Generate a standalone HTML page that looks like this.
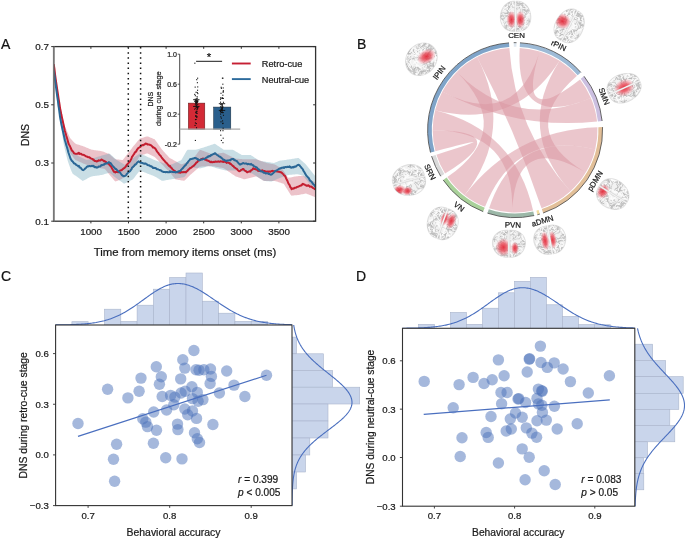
<!DOCTYPE html>
<html><head><meta charset="utf-8"><style>
html,body{margin:0;padding:0;background:#fff;}
svg{display:block;font-family:"Liberation Sans", sans-serif;}
.gs{will-change:transform;}
text{stroke:#1a1a1a;stroke-width:0.22px;paint-order:stroke;}
</style></head><body>
<svg width="685" height="539" viewBox="0 0 685 539">
<rect width="685" height="539" fill="#fff"/>
<g class="gs" opacity="0.999">
<g id="panelB">
<g fill="rgb(218,152,163)" fill-opacity="0.55" stroke="none">
<path d="M445.07,173.57 A82.40,82.40 0 0 1 436.43,154.65 Q511.14,131.29 435.43,151.20 A82.40,82.40 0 0 1 432.70,130.15 Q515.10,130.15 445.07,173.57 Z"/>
<path d="M432.70,130.15 A82.40,82.40 0 0 1 435.15,110.22 Q515.10,130.15 533.08,210.57 A82.40,82.40 0 0 1 512.22,212.50 Q515.10,130.15 432.70,130.15 Z"/>
<path d="M435.15,110.22 A82.40,82.40 0 0 1 442.35,91.47 Q515.10,130.15 539.74,51.52 A82.40,82.40 0 0 1 559.62,60.81 Q515.10,130.15 435.15,110.22 Z"/>
<path d="M442.35,91.47 A82.40,82.40 0 0 1 456.83,71.88 Q515.10,130.15 590.95,97.95 A82.40,82.40 0 0 1 597.05,121.54 Q515.10,130.15 442.35,91.47 Z"/>
<path d="M456.83,71.88 A82.40,82.40 0 0 1 477.05,57.06 Q515.10,130.15 464.60,195.26 A82.40,82.40 0 0 1 447.36,177.06 Q515.10,130.15 456.83,71.88 Z"/>
<path d="M477.05,57.06 A82.40,82.40 0 0 1 509.35,47.95 Q515.10,130.15 570.45,191.19 A82.40,82.40 0 0 1 541.52,208.20 Q515.10,130.15 477.05,57.06 Z"/>
<path d="M519.70,47.88 A82.40,82.40 0 0 1 539.74,51.52 Q515.10,130.15 580.03,79.42 A82.40,82.40 0 0 1 590.95,97.95 Q515.10,130.15 519.70,47.88 Z"/>
<path d="M559.62,60.81 A82.40,82.40 0 0 1 577.00,75.77 Q515.10,130.15 585.73,172.59 A82.40,82.40 0 0 1 570.45,191.19 Q515.10,130.15 559.62,60.81 Z"/>
<path d="M597.45,127.27 A82.40,82.40 0 0 1 595.22,149.39 Q515.10,130.15 485.03,206.87 A82.40,82.40 0 0 1 464.60,195.26 Q515.10,130.15 597.45,127.27 Z"/>
<path d="M595.22,149.39 A82.40,82.40 0 0 1 585.73,172.59 Q515.10,130.15 512.22,212.50 A82.40,82.40 0 0 1 489.09,208.34 Q515.10,130.15 595.22,149.39 Z"/>
</g>
<path d="M432.58,151.95 A85.35,85.35 0 0 1 509.15,45.01" fill="none" stroke="#7fa4c9" stroke-width="4.10"/>
<path d="M430.50,152.50 A87.50,87.50 0 0 1 509.00,42.86" fill="none" stroke="#444" stroke-width="0.8"/>
<path d="M513.76,44.81 A85.35,85.35 0 0 1 516.44,44.81" fill="none" stroke="#dfe8f0" stroke-width="4.10"/>
<path d="M513.73,42.66 A87.50,87.50 0 0 1 516.47,42.66" fill="none" stroke="#444" stroke-width="0.8"/>
<path d="M519.86,44.93 A85.35,85.35 0 0 1 579.22,73.82" fill="none" stroke="#9dbad6" stroke-width="4.10"/>
<path d="M519.98,42.79 A87.50,87.50 0 0 1 580.84,72.40" fill="none" stroke="#444" stroke-width="0.8"/>
<path d="M582.36,77.60 A85.35,85.35 0 0 1 599.98,121.23" fill="none" stroke="#cbbfe0" stroke-width="4.10"/>
<path d="M584.05,76.28 A87.50,87.50 0 0 1 602.12,121.00" fill="none" stroke="#444" stroke-width="0.8"/>
<path d="M600.40,127.17 A85.35,85.35 0 0 1 542.46,210.99" fill="none" stroke="#e2bf98" stroke-width="4.10"/>
<path d="M602.55,127.10 A87.50,87.50 0 0 1 543.15,213.03" fill="none" stroke="#444" stroke-width="0.8"/>
<path d="M539.20,212.03 A85.35,85.35 0 0 1 536.90,212.67" fill="none" stroke="#f3dca0" stroke-width="4.10"/>
<path d="M539.80,214.09 A87.50,87.50 0 0 1 537.45,214.75" fill="none" stroke="#444" stroke-width="0.8"/>
<path d="M533.72,213.44 A85.35,85.35 0 0 1 488.16,211.14" fill="none" stroke="#9cb8a8" stroke-width="4.10"/>
<path d="M534.19,215.54 A87.50,87.50 0 0 1 487.48,213.18" fill="none" stroke="#444" stroke-width="0.8"/>
<path d="M483.96,209.62 A85.35,85.35 0 0 1 444.93,178.74" fill="none" stroke="#a9d19a" stroke-width="4.10"/>
<path d="M483.17,211.62 A87.50,87.50 0 0 1 443.16,179.96" fill="none" stroke="#444" stroke-width="0.8"/>
<path d="M442.56,175.13 A85.35,85.35 0 0 1 433.61,155.53" fill="none" stroke="#dadada" stroke-width="4.10"/>
<path d="M440.73,176.26 A87.50,87.50 0 0 1 431.56,156.17" fill="none" stroke="#444" stroke-width="0.8"/>
</g>
<defs>
<radialGradient id="rb"><stop offset="0" stop-color="#e42a3a" stop-opacity="0.95"/><stop offset="0.45" stop-color="#e8414f" stop-opacity="0.75"/><stop offset="0.8" stop-color="#ee6472" stop-opacity="0.3"/><stop offset="1" stop-color="#f07080" stop-opacity="0"/></radialGradient>
<filter id="bblur" x="-20%" y="-20%" width="140%" height="140%"><feGaussianBlur stdDeviation="0.55"/></filter>
<clipPath id="hemis"><path d="M-0.90,-15.00 L-2.92,-14.91 L-4.52,-14.65 L-5.97,-14.21 L-7.32,-13.61 L-8.57,-12.85 L-9.72,-11.94 L-10.78,-10.89 L-11.73,-9.71 L-12.58,-8.42 L-13.32,-7.03 L-13.94,-5.55 L-14.44,-4.01 L-14.80,-2.43 L-15.04,-0.81 L-15.13,0.81 L-15.08,2.43 L-14.88,4.01 L-14.53,5.55 L-14.04,7.03 L-13.40,8.42 L-12.61,9.71 L-11.68,10.89 L-10.61,11.94 L-9.40,12.85 L-8.06,13.61 L-6.59,14.21 L-4.97,14.65 L-3.17,14.91 L-0.90,15.00 L-0.90,15.00 L-0.90,-15.00 Z M0.90,-15.00 L2.92,-14.91 L4.52,-14.65 L5.97,-14.21 L7.32,-13.61 L8.57,-12.85 L9.72,-11.94 L10.78,-10.89 L11.73,-9.71 L12.58,-8.42 L13.32,-7.03 L13.94,-5.55 L14.44,-4.01 L14.80,-2.43 L15.04,-0.81 L15.13,0.81 L15.08,2.43 L14.88,4.01 L14.53,5.55 L14.04,7.03 L13.40,8.42 L12.61,9.71 L11.68,10.89 L10.61,11.94 L9.40,12.85 L8.06,13.61 L6.59,14.21 L4.97,14.65 L3.17,14.91 L0.90,15.00 L0.90,15.00 L0.90,-15.00 Z"/></clipPath>
<g id="brain">
<path d="M-0.90,-15.00 L-2.92,-14.91 L-4.52,-14.65 L-5.97,-14.21 L-7.32,-13.61 L-8.57,-12.85 L-9.72,-11.94 L-10.78,-10.89 L-11.73,-9.71 L-12.58,-8.42 L-13.32,-7.03 L-13.94,-5.55 L-14.44,-4.01 L-14.80,-2.43 L-15.04,-0.81 L-15.13,0.81 L-15.08,2.43 L-14.88,4.01 L-14.53,5.55 L-14.04,7.03 L-13.40,8.42 L-12.61,9.71 L-11.68,10.89 L-10.61,11.94 L-9.40,12.85 L-8.06,13.61 L-6.59,14.21 L-4.97,14.65 L-3.17,14.91 L-0.90,15.00 L-0.90,15.00 L-0.90,-15.00 Z M0.90,-15.00 L2.92,-14.91 L4.52,-14.65 L5.97,-14.21 L7.32,-13.61 L8.57,-12.85 L9.72,-11.94 L10.78,-10.89 L11.73,-9.71 L12.58,-8.42 L13.32,-7.03 L13.94,-5.55 L14.44,-4.01 L14.80,-2.43 L15.04,-0.81 L15.13,0.81 L15.08,2.43 L14.88,4.01 L14.53,5.55 L14.04,7.03 L13.40,8.42 L12.61,9.71 L11.68,10.89 L10.61,11.94 L9.40,12.85 L8.06,13.61 L6.59,14.21 L4.97,14.65 L3.17,14.91 L0.90,15.00 L0.90,15.00 L0.90,-15.00 Z" fill="#f2f2f2" stroke="#e0e0e0" stroke-width="1.2"/>
<path d="M-11.97,8.93 L-13.61,9.66 L-13.76,11.45 L-13.41,13.22 L-12.68,14.87 M2.09,-13.09 L3.77,-12.45 L5.50,-12.94 L7.14,-13.70 L8.51,-12.53 M-13.17,9.98 L-14.55,11.13 L-16.29,11.61 L-16.73,13.36 L-17.40,15.03 M5.03,11.01 L6.24,12.34 L5.97,14.12 L6.84,15.70 L6.06,17.32 M-12.84,-13.96 L-14.63,-14.15 L-16.42,-14.36 L-18.22,-14.29 L-19.53,-13.07 M5.72,8.88 L6.47,10.52 L6.37,12.32 L6.50,14.11 L5.42,15.55 M-4.56,-5.23 L-3.98,-6.93 L-3.37,-8.62 L-3.88,-10.35 L-5.67,-10.56 M13.63,-12.01 L14.13,-13.74 L15.89,-14.11 L17.51,-14.90 L19.00,-13.89 M-8.73,-7.54 L-8.09,-9.22 L-6.79,-10.46 L-5.60,-11.82 L-5.51,-13.61 M9.83,-11.39 L9.76,-13.19 L9.17,-14.89 L9.84,-16.56 L9.22,-18.25 M-6.58,8.64 L-8.32,9.07 L-10.12,9.01 L-10.96,7.42 L-9.80,6.04 M10.91,8.96 L11.09,10.75 L9.88,12.08 L9.02,13.66 L7.97,15.12 M-7.73,13.30 L-8.07,15.07 L-6.54,16.02 L-4.87,16.67 L-3.47,17.81 M13.65,12.29 L11.86,12.13 L10.44,13.23 L8.65,13.03 L7.29,14.20 M-6.77,-12.37 L-4.98,-12.55 L-3.95,-14.04 L-2.84,-15.45 L-2.68,-17.24 M7.89,1.54 L7.94,3.34 L8.90,4.87 L10.04,6.26 L11.81,5.94 M-1.54,-8.84 L-3.33,-8.90 L-4.36,-10.38 L-5.44,-11.82 L-6.68,-13.12 M10.17,10.40 L8.46,10.97 L6.94,11.92 L5.24,12.51 L3.49,12.09 M-8.02,5.53 L-9.82,5.44 L-10.71,7.00 L-10.13,8.71 L-8.61,9.66 M4.14,-13.08 L4.08,-11.28 L2.60,-10.25 L1.58,-8.77 L1.08,-7.04 M-6.92,5.23 L-5.19,4.71 L-3.70,3.71 L-1.90,3.55 L-0.30,2.73 M12.21,-7.81 L13.47,-9.10 L15.21,-9.56 L16.98,-9.87 L18.45,-10.91 M-7.93,-13.04 L-6.23,-12.43 L-4.50,-11.92 L-3.67,-10.33 L-1.87,-10.45 M8.74,-0.27 L8.03,-1.93 L7.42,-3.62 L7.08,-5.39 L6.70,-7.15 M-9.50,-7.30 L-10.82,-8.52 L-12.62,-8.53 L-13.31,-10.19 L-12.95,-11.96 M13.92,-5.98 L12.84,-4.54 L13.61,-2.91 L15.41,-2.97 L16.86,-4.05 M-12.70,-9.75 L-14.19,-10.75 L-15.81,-9.97 L-16.48,-8.30 L-17.78,-7.05 M8.02,1.42 L6.81,2.76 L5.65,4.13 L3.87,3.86 L2.35,4.82 M-11.03,-7.22 L-9.76,-5.94 L-7.99,-6.27 L-6.82,-4.90 L-5.27,-3.98 M3.79,-14.50 L5.50,-15.04 L7.08,-15.91 L8.82,-16.37 L9.95,-14.96 M-13.08,-7.47 L-12.82,-9.26 L-14.13,-10.49 L-14.07,-12.29 L-14.45,-14.05 M11.66,-5.14 L10.42,-6.44 L8.63,-6.19 L7.04,-7.02 L6.48,-8.73 M-7.78,-3.25 L-6.33,-4.31 L-4.60,-3.81 L-2.80,-3.66 L-1.05,-4.05 M6.20,-12.76 L7.03,-11.16 L8.82,-11.08 L10.61,-10.83 L12.41,-10.82 M-1.83,-9.98 L-1.50,-11.75 L-1.72,-13.54 L-0.25,-14.57 L-0.20,-16.37 M6.83,8.73 L7.92,7.30 L9.71,7.51 L11.24,8.46 L13.04,8.43 M-7.74,-7.28 L-6.09,-6.57 L-4.63,-7.63 L-3.11,-8.60 L-2.68,-10.34 M6.76,6.99 L5.27,5.98 L3.50,5.64 L1.70,5.61 L-0.04,6.07 M-10.37,8.36 L-11.06,10.02 L-9.98,11.46 L-8.51,12.49 L-8.70,14.28 M8.03,1.66 L6.81,0.33 L6.79,-1.47 L5.79,-2.96 L4.25,-3.89 M-13.03,-0.00 L-12.24,-1.62 L-10.61,-2.39 L-9.04,-3.26 L-7.52,-4.22 M12.95,-10.71 L11.38,-9.83 L10.25,-8.44 L8.46,-8.21 L6.78,-7.56 M-11.70,-14.11 L-10.86,-12.51 L-10.77,-10.72 L-9.50,-9.44 L-8.79,-7.78 M3.97,-3.67 L5.21,-4.98 L5.10,-6.77 L3.78,-7.99 L3.75,-9.79 M-4.67,9.44 L-3.73,7.90 L-4.61,6.33 L-3.69,4.77 L-1.96,4.28" fill="none" stroke="#cbcbcb" stroke-width="0.8" stroke-linecap="round" clip-path="url(#hemis)"/>
<path d="M-1.65,-14.19 L-0.47,-12.82 L0.41,-11.25 L2.10,-10.63 L2.24,-8.84 M11.74,-5.15 L9.94,-5.03 L8.36,-5.88 L8.55,-7.67 L9.14,-9.37 M-4.31,-13.19 L-5.25,-14.73 L-5.56,-16.50 L-6.79,-17.82 L-8.48,-18.44 M10.72,0.50 L8.96,0.88 L7.70,2.17 L5.92,1.88 L4.25,1.23 M-9.52,-9.50 L-8.44,-8.06 L-8.59,-6.26 L-8.02,-4.56 L-7.80,-2.77 M10.46,2.78 L9.91,1.06 L9.46,-0.68 L10.01,-2.39 L8.85,-3.76 M-9.33,-11.34 L-8.84,-9.61 L-7.11,-9.13 L-5.34,-9.46 L-3.54,-9.52 M2.30,-11.32 L3.58,-10.05 L3.74,-8.26 L2.21,-7.32 L0.59,-8.10 M-10.55,-1.93 L-11.68,-0.53 L-12.37,1.13 L-13.84,2.18 L-15.64,2.25 M4.62,11.55 L3.19,12.65 L1.46,12.18 L0.00,13.24 L-0.44,14.99 M-12.19,6.61 L-11.89,4.84 L-12.86,3.33 L-14.10,2.02 L-15.17,0.58 M8.51,9.65 L6.93,10.52 L5.15,10.79 L3.36,10.70 L2.57,9.08 M-6.59,-8.85 L-7.00,-7.10 L-7.22,-5.31 L-6.10,-3.90 L-5.79,-2.12 M6.01,8.64 L6.05,6.84 L5.29,5.21 L4.47,3.61 L3.37,2.18 M-8.77,-10.39 L-8.93,-12.18 L-10.34,-13.30 L-11.70,-14.49 L-13.48,-14.26 M3.43,13.60 L4.00,11.90 L5.52,10.94 L6.75,9.62 L7.84,8.18 M-4.14,-9.74 L-5.84,-10.34 L-6.10,-12.12 L-6.07,-13.92 L-5.71,-15.68 M4.47,10.82 L5.95,9.80 L7.32,8.63 L7.37,6.83 L6.51,5.25 M-9.06,8.01 L-8.94,9.80 L-8.96,11.60 L-10.64,12.25 L-11.35,13.91 M6.94,11.92 L5.61,10.71 L4.34,9.44 L2.56,9.74 L0.76,9.74 M-1.43,13.31 L-3.12,13.93 L-4.66,13.00 L-6.10,14.08 L-6.47,15.84 M2.61,12.88 L3.58,11.36 L2.67,9.81 L1.89,8.18 L1.65,6.40 M-4.13,-11.77 L-3.84,-13.55 L-5.28,-14.63 L-6.99,-14.08 L-8.78,-14.30 M4.33,10.22 L4.20,8.43 L4.23,6.63 L5.33,5.20 L4.86,3.46 M-13.93,-0.99 L-15.69,-0.64 L-17.41,-0.09 L-18.72,-1.33 L-20.28,-2.22 M6.16,8.89 L6.67,10.62 L7.57,12.18 L8.80,13.50 L10.56,13.85 M-12.82,-3.30 L-14.60,-3.07 L-16.28,-3.73 L-17.42,-5.12 L-18.81,-6.27 M11.07,-1.39 L11.41,-3.15 L10.86,-4.87 L12.05,-6.22 L12.50,-7.97 M-7.41,-9.60 L-9.08,-10.26 L-10.87,-10.49 L-12.38,-11.46 L-13.90,-10.48 M3.59,11.83 L1.97,12.62 L0.98,14.12 L-0.77,14.54 L-2.47,15.15 M-4.22,-11.15 L-5.85,-10.40 L-6.18,-8.63 L-7.80,-7.84 L-8.30,-6.11 M9.40,7.91 L7.74,7.21 L6.44,8.45 L5.17,9.73 L4.03,11.12 M-10.22,-2.25 L-8.42,-2.16 L-6.63,-2.27 L-5.01,-3.07 L-4.66,-4.83 M12.08,-5.42 L13.66,-6.28 L13.44,-8.07 L12.56,-9.64 L11.63,-11.19 M-7.47,10.52 L-6.20,9.24 L-6.64,7.50 L-5.22,6.39 L-3.66,5.49 M10.95,3.61 L12.45,4.60 L14.21,4.98 L15.98,5.31 L17.14,3.94 M-9.16,9.53 L-10.30,10.92 L-11.60,12.17 L-13.34,11.71 L-14.27,10.17 M4.23,-10.63 L3.36,-12.20 L1.59,-12.52 L0.91,-14.19 L1.55,-15.87 M-8.77,-8.09 L-7.35,-9.19 L-7.81,-10.93 L-7.89,-12.72 L-7.51,-14.48 M6.60,-12.39 L4.83,-12.68 L3.29,-13.62 L1.51,-13.34 L-0.00,-14.31 M-12.02,-3.40 L-10.26,-3.04 L-8.47,-2.87 L-7.02,-1.80 L-5.47,-0.88 M13.29,2.53 L13.65,4.30 L13.75,6.09 L12.23,7.05 L12.40,8.84 M-13.02,-1.52 L-13.96,0.02 L-14.95,1.52 L-14.21,3.16 L-12.42,3.37 M9.88,-5.32 L9.06,-6.92 L7.41,-7.64 L7.43,-9.44 L6.81,-11.13 M-6.71,10.80 L-5.13,9.94 L-3.42,10.50 L-1.87,9.60 L-0.22,10.32 M5.57,-12.41 L7.33,-12.75 L8.19,-14.34 L9.46,-15.61 L10.07,-17.30 M-11.11,2.30 L-12.81,1.71 L-14.34,0.75 L-15.89,-0.16 L-16.74,-1.75 M1.25,11.60 L3.05,11.72 L4.36,10.48 L5.35,8.99 L7.01,8.28 M-7.62,7.88 L-6.23,9.02 L-6.12,10.82 L-5.94,12.61 L-5.92,14.41 M10.25,-7.65 L8.52,-8.13 L6.95,-9.01 L6.16,-10.63 L4.87,-11.89 M-10.88,-1.48 L-9.33,-0.57 L-7.78,-1.49 L-7.72,-3.29 L-6.21,-4.28 M9.81,8.47 L8.99,6.86 L7.66,5.65 L6.59,4.20 L6.99,2.44 M-10.88,1.35 L-9.67,0.02 L-7.92,-0.38 L-6.57,0.81 L-4.78,0.58 M6.41,8.54 L7.94,7.60 L9.41,6.56 L10.82,5.45 L11.23,3.69 M-3.28,11.07 L-4.50,12.39 L-5.94,13.47 L-7.42,14.49 L-9.05,15.25" fill="none" stroke="#b9b9b9" stroke-width="0.8" stroke-linecap="round" clip-path="url(#hemis)"/>
<path d="M-2.94,-11.34 L-1.25,-10.71 L0.21,-9.65 L1.49,-8.39 L3.28,-8.15 M3.54,2.44 L4.40,0.86 L4.63,-0.92 L5.21,-2.63 L6.97,-3.00 M-7.38,-5.63 L-6.09,-6.89 L-4.86,-8.20 L-3.70,-9.58 L-4.39,-11.24 M2.88,-14.26 L2.85,-16.06 L3.59,-17.70 L4.11,-19.43 L4.61,-21.16 M-12.73,-3.06 L-11.83,-1.50 L-10.03,-1.66 L-8.24,-1.74 L-6.55,-2.38 M7.05,6.61 L8.84,6.79 L10.13,8.04 L10.19,9.84 L8.66,10.79 M-6.50,-4.55 L-4.71,-4.43 L-3.74,-5.95 L-3.94,-7.74 L-4.52,-9.44 M6.85,7.68 L5.12,7.21 L3.97,8.59 L2.27,9.21 L0.54,8.71 M-1.66,-4.32 L-3.46,-4.30 L-4.82,-5.49 L-4.31,-7.21 L-2.83,-8.24 M9.55,8.23 L10.92,9.39 L12.64,9.93 L14.07,11.03 L15.78,10.47 M-13.40,-12.82 L-14.12,-11.17 L-13.66,-9.43 L-12.89,-7.80 L-11.60,-6.55 M10.17,0.52 L11.45,-0.75 L13.19,-1.19 L13.48,-2.97 L14.47,-4.47 M-13.33,-10.56 L-11.93,-11.69 L-12.12,-13.48 L-11.82,-15.25 L-12.33,-16.98 M6.31,14.33 L4.64,13.65 L3.83,12.04 L2.62,10.70 L0.83,10.79 M-14.25,-9.82 L-12.69,-8.92 L-11.06,-8.14 L-9.45,-8.95 L-7.93,-9.90 M8.56,8.31 L10.03,7.27 L9.73,5.49 L11.24,4.51 L10.88,2.75 M-14.01,11.40 L-12.85,10.03 L-12.87,8.23 L-12.48,6.47 L-12.37,4.68 M10.73,-8.93 L9.48,-10.23 L8.54,-11.76 L9.36,-13.36 L10.94,-14.22 M-3.25,4.21 L-1.46,4.45 L0.21,5.12 L1.46,3.83 L0.93,2.11 M6.58,-9.25 L5.00,-10.12 L3.21,-9.91 L1.41,-9.92 L-0.38,-10.04 M-12.49,9.30 L-12.10,7.54 L-13.44,6.35 L-13.87,4.60 L-14.70,3.00 M2.19,0.87 L2.63,2.62 L2.35,4.40 L1.17,5.76 L0.92,7.54 M-10.16,-7.95 L-9.13,-9.43 L-8.20,-10.97 L-8.65,-12.71 L-9.25,-14.41 M5.10,8.23 L6.18,9.67 L7.55,10.84 L7.33,12.62 L6.48,14.21 M-8.82,-10.25 L-7.71,-8.84 L-8.31,-7.14 L-7.21,-5.72 L-5.86,-4.53 M6.31,-13.85 L4.92,-15.00 L3.49,-16.09 L3.26,-17.88 L3.56,-19.65 M-4.62,13.36 L-2.82,13.34 L-1.73,11.90 L-0.24,10.89 L-0.65,9.13 M5.22,-1.88 L3.60,-2.66 L2.10,-3.66 L1.05,-5.12 L-0.18,-6.44 M-11.01,-9.07 L-9.23,-8.76 L-8.52,-7.11 L-9.65,-5.70 L-11.41,-5.32 M5.28,12.02 L5.84,10.31 L4.75,8.88 L5.60,7.29 L5.25,5.52 M-3.75,1.57 L-3.50,-0.21 L-4.46,-1.73 L-4.25,-3.52 L-3.75,-5.25 M8.88,2.76 L10.44,1.85 L11.26,0.26 L11.53,-1.52 L13.29,-1.93 M-12.39,1.17 L-14.17,1.48 L-15.55,2.62 L-16.83,3.89 L-18.36,4.84 M11.48,6.00 L9.87,5.19 L8.08,5.04 L6.68,3.90 L5.52,2.53 M-13.36,-12.46 L-11.57,-12.67 L-10.10,-13.69 L-10.09,-15.49 L-11.63,-16.42 M14.39,8.32 L15.77,9.48 L17.32,10.39 L19.08,10.03 L20.87,9.82 M-4.61,-9.88 L-6.18,-10.77 L-5.98,-12.56 L-4.64,-13.76 L-5.20,-15.47 M3.73,1.70 L5.15,0.59 L6.69,-0.34 L8.15,-1.39 L7.76,-3.14 M-7.16,10.52 L-5.52,11.27 L-5.41,13.06 L-6.97,13.96 L-6.77,15.75 M5.49,-8.85 L6.97,-7.84 L8.77,-7.76 L10.53,-8.16 L12.29,-7.82 M-1.83,-9.66 L-2.22,-11.42 L-3.57,-12.60 L-3.34,-14.39 L-2.23,-15.81 M12.65,8.20 L11.24,9.32 L9.48,9.68 L7.68,9.84 L6.07,9.04 M-10.27,8.40 L-8.65,7.60 L-7.04,8.40 L-5.93,9.82 L-6.32,11.58 M2.23,0.62 L3.56,-0.60 L3.10,-2.34 L1.58,-3.30 L-0.22,-3.27 M-2.44,4.33 L-3.45,2.84 L-2.50,1.30 L-2.44,-0.49 L-3.44,-1.99" fill="none" stroke="#fcfcfc" stroke-width="0.9" stroke-linecap="round" clip-path="url(#hemis)"/>
</g>
<g id="brainL">
<ellipse cx="0" cy="0" rx="15.2" ry="15" fill="#f2f2f2" stroke="#e0e0e0" stroke-width="1.2"/>
<clipPath id="ell"><ellipse cx="0" cy="0" rx="15.2" ry="15"/></clipPath>
<path d="M-5.46,9.11 L-5.47,7.31 L-6.54,5.86 L-8.33,5.76 L-10.13,5.78 M13.25,-6.98 L14.21,-8.50 L14.65,-10.25 L15.84,-11.60 L17.61,-11.30 M-4.25,-6.94 L-4.52,-5.16 L-4.37,-3.37 L-5.19,-1.77 L-6.94,-1.33 M10.14,1.21 L10.71,-0.49 L11.99,-1.75 L12.87,-3.33 L14.67,-3.36 M-4.03,-7.11 L-2.56,-6.07 L-1.69,-4.50 L-0.17,-3.53 L-0.07,-1.74 M11.91,-6.64 L10.97,-8.18 L9.19,-8.46 L7.62,-9.34 L6.39,-10.65 M-12.82,-5.87 L-11.81,-4.39 L-12.26,-2.65 L-11.17,-1.22 L-9.41,-0.84 M2.86,14.13 L1.44,13.03 L1.30,11.24 L0.89,9.48 L-0.87,9.13 M-2.30,-7.30 L-0.76,-8.24 L-0.82,-10.04 L-2.22,-11.17 L-3.95,-10.67 M7.02,9.46 L7.53,7.73 L6.28,6.43 L6.82,4.72 L5.61,3.38 M-1.66,7.21 L-1.95,5.43 L-3.12,4.06 L-2.69,2.31 L-1.06,1.55 M2.07,13.24 L3.56,12.22 L4.99,11.13 L6.78,11.23 L7.69,12.78 M-13.16,-6.47 L-12.91,-4.69 L-12.42,-2.96 L-13.42,-1.46 L-14.24,0.15 M3.57,-3.62 L5.31,-3.20 L6.84,-4.15 L7.31,-5.89 L7.30,-7.69 M-13.73,0.48 L-12.76,2.00 L-11.10,2.69 L-9.50,3.53 L-7.74,3.16 M2.88,9.35 L2.23,7.67 L0.76,6.63 L-0.88,5.89 L-1.30,4.14 M-4.91,-1.96 L-3.21,-1.34 L-1.78,-2.43 L0.02,-2.42 L0.68,-0.75 M2.48,-4.05 L3.11,-5.73 L4.72,-6.54 L5.03,-8.32 L5.16,-10.11 M-11.68,8.38 L-11.84,6.59 L-11.82,4.79 L-13.21,3.65 L-12.67,1.93 M11.04,-3.10 L9.26,-3.39 L7.49,-3.07 L5.99,-2.08 L4.32,-2.77 M-3.57,13.06 L-5.33,12.68 L-7.11,12.42 L-8.05,13.96 L-8.28,15.75 M7.49,-13.14 L8.29,-14.75 L9.51,-16.07 L8.75,-17.70 L9.85,-19.13 M-9.63,6.33 L-7.91,6.84 L-6.26,6.10 L-4.76,7.10 L-3.02,7.53 M4.09,-2.02 L4.78,-0.36 L4.29,1.37 L5.00,3.03 L4.02,4.53 M-11.08,10.49 L-9.80,9.22 L-8.09,9.78 L-6.91,8.42 L-6.67,6.64 M13.27,1.31 L14.77,0.32 L15.80,-1.16 L17.57,-1.45 L18.91,-2.66 M-6.79,9.47 L-8.51,10.03 L-9.24,11.67 L-8.75,13.40 L-10.13,14.55 M4.01,-9.73 L5.11,-11.15 L5.84,-12.80 L6.99,-14.18 L8.79,-14.11 M-14.34,-4.20 L-16.08,-3.75 L-17.78,-3.14 L-19.35,-4.01 L-21.07,-4.55 M11.16,10.34 L10.13,11.81 L10.78,13.49 L10.69,15.28 L9.44,16.58 M-9.74,-6.50 L-11.21,-7.53 L-11.62,-9.29 L-10.28,-10.50 L-9.55,-12.14 M9.35,-1.31 L7.56,-1.11 L6.04,-0.16 L4.25,-0.43 L2.94,-1.66 M-2.95,9.53 L-3.77,11.13 L-4.37,12.83 L-4.55,14.62 L-4.39,16.41 M11.31,-5.48 L11.24,-3.68 L11.47,-1.90 L11.54,-0.10 L12.86,1.13 M-10.27,3.30 L-9.71,1.59 L-10.87,0.21 L-11.97,-1.22 L-13.74,-0.91 M6.27,4.15 L6.03,2.37 L7.34,1.13 L9.08,1.59 L9.62,3.30 M-7.19,3.64 L-7.86,5.31 L-7.58,7.08 L-8.67,8.51 L-8.46,10.30 M7.28,5.06 L5.59,5.68 L3.83,6.03 L2.99,7.62 L4.03,9.08 M-8.30,3.89 L-8.43,2.09 L-9.85,0.98 L-11.55,1.56 L-13.15,0.73 M13.09,13.61 L14.19,12.18 L15.49,10.94 L17.13,10.19 L18.87,9.73 M-6.96,9.48 L-8.47,8.50 L-8.46,6.70 L-8.79,4.93 L-8.14,3.25 M14.11,4.37 L13.50,6.06 L13.19,7.83 L14.18,9.33 L15.96,9.61 M-11.47,-2.03 L-12.81,-0.84 L-14.43,-0.04 L-16.20,0.25 L-17.74,-0.69 M5.44,2.97 L4.36,4.40 L2.56,4.50 L0.80,4.13 L-0.98,3.83 M-8.24,0.69 L-9.79,1.60 L-11.53,1.16 L-13.33,1.24 L-14.84,0.26" fill="none" stroke="#cbcbcb" stroke-width="0.8" stroke-linecap="round" clip-path="url(#ell)"/>
<path d="M-1.42,-11.53 L-0.83,-13.23 L-1.90,-14.67 L-3.39,-15.68 L-5.01,-16.47 M6.44,8.87 L8.03,9.71 L9.77,10.17 L11.09,11.41 L12.67,12.27 M-9.02,7.07 L-10.78,7.44 L-12.46,8.09 L-14.16,8.70 L-15.71,9.61 M4.36,-11.82 L5.91,-12.74 L7.70,-12.68 L9.18,-11.65 L8.87,-9.87 M-8.84,8.38 L-7.35,9.38 L-5.55,9.39 L-4.56,10.89 L-3.34,12.22 M12.50,1.02 L13.50,2.52 L15.26,2.15 L17.05,2.37 L18.61,1.47 M-2.52,12.79 L-3.58,14.24 L-3.73,16.04 L-2.96,17.66 L-3.97,19.15 M12.50,0.63 L10.94,1.52 L9.16,1.73 L7.39,2.09 L5.59,2.17 M-10.48,8.02 L-11.38,9.58 L-10.90,11.31 L-10.70,13.10 L-12.09,14.24 M1.56,11.68 L0.18,10.52 L-1.62,10.41 L-3.40,10.67 L-5.19,10.48 M-8.62,-10.67 L-7.98,-12.35 L-6.18,-12.38 L-4.38,-12.46 L-2.96,-11.35 M12.34,-0.16 L14.14,-0.26 L14.85,-1.91 L15.73,-3.49 L17.13,-4.62 M-13.48,-4.24 L-12.36,-5.65 L-11.91,-7.39 L-12.71,-9.00 L-14.35,-9.75 M11.62,7.18 L13.40,6.91 L15.08,6.26 L16.45,7.41 L18.13,6.75 M-11.63,0.86 L-12.54,-0.69 L-14.32,-0.96 L-14.91,-2.66 L-13.66,-3.95 M3.21,10.59 L2.92,12.37 L3.03,14.17 L3.04,15.97 L1.79,17.26 M-1.09,13.44 L-1.05,11.64 L-1.85,10.02 L-0.73,8.61 L-0.01,6.97 M2.39,13.31 L2.75,15.07 L2.19,16.78 L0.99,18.12 L-0.43,19.23 M-11.48,1.48 L-9.91,0.59 L-8.32,1.43 L-7.69,3.12 L-8.11,4.87 M5.99,-9.34 L4.24,-9.78 L2.80,-8.71 L3.02,-6.92 L4.36,-5.73 M-9.46,-8.90 L-9.15,-7.13 L-9.19,-5.33 L-9.65,-3.59 L-11.21,-2.68 M12.63,-6.91 L10.84,-7.14 L9.62,-8.46 L8.06,-9.35 L7.57,-11.08 M-2.55,-12.36 L-3.75,-11.03 L-5.17,-9.91 L-6.76,-10.76 L-7.81,-12.22 M11.05,-6.85 L12.33,-8.11 L14.10,-8.44 L15.64,-7.51 L17.35,-6.95 M-9.14,8.62 L-10.00,10.20 L-11.79,10.08 L-13.26,9.04 L-14.74,8.02 M1.58,12.96 L0.31,11.69 L-1.16,10.65 L-2.76,11.48 L-4.20,12.56 M-10.34,-10.12 L-11.91,-11.00 L-13.65,-10.55 L-14.03,-8.79 L-15.45,-7.69 M8.86,7.94 L10.45,8.80 L11.80,9.98 L13.58,9.70 L14.10,7.98 M-11.60,-8.97 L-11.08,-7.25 L-12.31,-5.93 L-14.10,-6.13 L-15.71,-6.92 M13.37,-1.38 L14.23,-2.96 L15.30,-4.40 L16.48,-5.76 L15.69,-7.38 M-6.21,12.64 L-6.23,10.84 L-7.32,9.40 L-8.41,7.97 L-10.04,7.21 M5.53,-8.94 L7.26,-8.44 L8.98,-7.92 L9.57,-6.22 L11.35,-5.91 M-2.87,-14.25 L-1.45,-15.36 L0.34,-15.50 L2.12,-15.23 L3.92,-15.31 M2.37,10.53 L1.97,8.77 L3.17,7.42 L2.73,5.68 L2.60,3.88 M-8.48,-8.52 L-6.74,-8.98 L-5.62,-7.57 L-4.07,-6.65 L-2.46,-5.85 M11.99,7.67 L13.30,6.44 L15.01,7.01 L16.76,6.59 L18.30,7.52 M-4.19,-12.89 L-3.29,-14.45 L-1.88,-15.57 L-0.27,-14.76 L1.46,-15.25 M11.68,-0.11 L10.06,-0.90 L9.36,-2.55 L8.47,-4.12 L6.68,-4.25 M-7.69,-10.72 L-7.47,-12.50 L-7.76,-14.28 L-7.64,-16.08 L-8.39,-17.71 M8.08,7.50 L6.39,6.89 L5.11,5.63 L3.87,4.32 L2.59,3.05 M-4.37,-9.72 L-4.08,-11.50 L-3.40,-13.17 L-3.93,-14.89 L-2.66,-16.16 M11.36,2.18 L9.72,1.45 L8.00,1.98 L7.32,3.64 L7.41,5.44 M-1.73,12.18 L-3.16,13.27 L-2.98,15.07 L-4.28,16.31 L-5.92,17.06 M11.11,-4.97 L12.58,-6.01 L13.50,-7.56 L12.94,-9.27 L14.28,-10.46 M-13.04,2.33 L-14.20,3.70 L-14.30,5.50 L-14.39,7.30 L-15.76,8.47 M2.50,-12.44 L0.86,-11.70 L0.75,-9.90 L0.43,-8.13 L0.41,-6.33 M-9.43,8.87 L-11.06,9.64 L-12.84,9.90 L-14.27,10.99 L-14.81,12.71 M5.27,11.62 L3.64,12.40 L2.32,13.62 L2.27,15.42 L3.37,16.85 M-10.67,-8.40 L-12.33,-7.69 L-12.79,-5.95 L-12.89,-4.16 L-13.85,-2.63 M1.96,13.71 L1.50,15.45 L2.89,16.59 L4.68,16.42 L5.62,14.89 M-9.43,5.06 L-8.34,6.49 L-6.57,6.19 L-4.77,6.27 L-3.87,4.71 M14.22,-2.85 L12.42,-2.72 L10.64,-3.01 L9.45,-4.35 L7.73,-4.91 M-11.69,2.17 L-12.41,3.82 L-14.21,3.78 L-15.95,4.25 L-17.22,5.52 M8.76,6.30 L10.52,5.94 L12.31,6.10 L13.07,7.74 L13.66,9.44 M-2.55,-12.33 L-3.36,-13.94 L-4.63,-15.21 L-6.07,-16.29 L-7.75,-16.93" fill="none" stroke="#b9b9b9" stroke-width="0.8" stroke-linecap="round" clip-path="url(#ell)"/>
<path d="M-14.32,6.09 L-16.02,6.69 L-17.17,8.08 L-17.86,9.74 L-18.59,11.39 M8.16,-1.01 L7.40,-2.65 L6.34,-4.10 L4.54,-4.10 L3.58,-5.62 M-9.20,-11.72 L-9.85,-10.05 L-10.91,-8.59 L-10.00,-7.04 L-10.81,-5.43 M5.37,11.37 L7.16,11.46 L8.53,10.29 L10.14,9.49 L10.88,7.85 M-10.50,9.27 L-11.41,10.82 L-10.35,12.27 L-11.12,13.90 L-9.98,15.29 M10.21,10.23 L10.48,12.01 L11.35,13.59 L11.47,15.38 L10.06,16.50 M-5.49,-0.83 L-6.62,0.56 L-6.10,2.29 L-6.44,4.05 L-5.99,5.80 M2.12,-4.50 L3.67,-3.59 L5.44,-3.93 L7.22,-3.70 L8.97,-4.14 M-5.77,6.56 L-7.56,6.74 L-9.12,5.85 L-10.64,6.82 L-12.42,6.58 M11.03,11.24 L9.34,10.62 L7.65,11.24 L6.46,12.60 L7.00,14.31 M-1.74,-8.08 L-0.72,-6.61 L1.04,-6.99 L1.36,-8.77 L3.11,-9.21 M11.04,-5.68 L12.66,-4.91 L14.46,-5.03 L15.03,-6.74 L16.05,-8.22 M-5.86,-10.77 L-4.07,-10.98 L-2.27,-10.95 L-0.87,-9.83 L0.46,-8.62 M4.20,13.88 L2.92,15.15 L3.11,16.94 L3.82,18.59 L3.39,20.34 M-12.80,14.35 L-12.15,12.67 L-10.92,11.36 L-9.15,11.72 L-8.75,13.48 M7.67,-6.35 L5.95,-5.80 L4.94,-4.31 L3.15,-4.13 L1.93,-5.45 M-3.94,-3.70 L-4.81,-2.12 L-3.68,-0.72 L-2.85,0.88 L-1.35,1.88 M11.50,6.68 L10.43,8.13 L9.51,9.68 L7.85,10.37 L6.62,11.68 M-12.27,5.45 L-13.76,6.47 L-15.42,7.17 L-17.03,6.37 L-18.62,7.23 M13.38,7.60 L15.12,8.08 L16.80,8.70 L18.19,7.55 L19.87,8.19 M-7.39,-3.39 L-5.60,-3.25 L-4.05,-2.34 L-2.66,-1.19 L-3.03,0.57 M11.20,5.61 L9.51,6.23 L7.75,6.61 L6.65,5.18 L6.99,3.42 M-3.14,-10.71 L-4.13,-12.21 L-5.56,-13.31 L-7.34,-13.08 L-7.97,-11.40 M4.19,7.22 L2.68,6.25 L1.87,4.64 L1.78,2.84 L0.52,1.55 M-2.06,-13.76 L-0.36,-13.18 L1.27,-13.95 L3.07,-13.97 L3.90,-15.57 M9.53,-3.58 L7.82,-3.04 L6.11,-3.60 L4.58,-4.55 L4.83,-6.33 M-11.77,-14.50 L-13.55,-14.77 L-15.32,-15.13 L-16.43,-16.55 L-18.14,-17.11 M10.10,13.77 L10.60,15.50 L10.40,17.29 L10.57,19.08 L9.16,20.20 M-2.61,-6.20 L-0.98,-6.97 L0.73,-6.43 L2.53,-6.59 L4.30,-6.90 M4.82,9.28 L6.60,9.03 L7.64,7.56 L9.08,6.48 L10.85,6.82 M-12.93,-0.35 L-12.40,-2.07 L-12.69,-3.85 L-12.16,-5.56 L-11.42,-7.21 M8.24,-3.38 L6.80,-2.29 L5.06,-1.83 L3.29,-1.53 L1.49,-1.52 M-4.36,5.66 L-4.82,7.40 L-4.78,9.19 L-3.61,10.56 L-3.26,12.33 M3.11,-12.55 L3.72,-10.86 L3.88,-9.07 L5.55,-8.39 L6.98,-9.48 M-5.67,-5.04 L-5.30,-3.28 L-6.27,-1.77 L-7.03,-0.14 L-8.17,1.26 M4.07,9.71 L5.84,9.40 L7.64,9.47 L8.66,7.98 L9.84,6.63 M-9.76,-2.78 L-9.13,-4.47 L-9.00,-6.26 L-7.68,-7.49 L-5.88,-7.48 M13.88,-12.29 L12.58,-11.05 L11.46,-9.64 L9.81,-8.93 L8.08,-9.44 M-4.14,-0.64 L-3.13,0.85 L-2.11,2.34 L-3.11,3.83 L-4.49,4.99 M10.89,-12.15 L9.12,-12.47 L7.44,-13.10 L5.66,-12.82 L4.24,-11.71" fill="none" stroke="#fcfcfc" stroke-width="0.9" stroke-linecap="round" clip-path="url(#ell)"/>
</g>
</defs>
<g transform="translate(515.6,16.3)" filter="url(#bblur)">
<g transform="rotate(0) scale(1.0,1.0)"><use href="#brain"/></g>
<clipPath id="hc20"><path transform="rotate(0) scale(1.0,1.0)" d="M-0.90,-15.00 L-2.92,-14.91 L-4.52,-14.65 L-5.97,-14.21 L-7.32,-13.61 L-8.57,-12.85 L-9.72,-11.94 L-10.78,-10.89 L-11.73,-9.71 L-12.58,-8.42 L-13.32,-7.03 L-13.94,-5.55 L-14.44,-4.01 L-14.80,-2.43 L-15.04,-0.81 L-15.13,0.81 L-15.08,2.43 L-14.88,4.01 L-14.53,5.55 L-14.04,7.03 L-13.40,8.42 L-12.61,9.71 L-11.68,10.89 L-10.61,11.94 L-9.40,12.85 L-8.06,13.61 L-6.59,14.21 L-4.97,14.65 L-3.17,14.91 L-0.90,15.00 L-0.90,15.00 L-0.90,-15.00 Z M0.90,-15.00 L2.92,-14.91 L4.52,-14.65 L5.97,-14.21 L7.32,-13.61 L8.57,-12.85 L9.72,-11.94 L10.78,-10.89 L11.73,-9.71 L12.58,-8.42 L13.32,-7.03 L13.94,-5.55 L14.44,-4.01 L14.80,-2.43 L15.04,-0.81 L15.13,0.81 L15.08,2.43 L14.88,4.01 L14.53,5.55 L14.04,7.03 L13.40,8.42 L12.61,9.71 L11.68,10.89 L10.61,11.94 L9.40,12.85 L8.06,13.61 L6.59,14.21 L4.97,14.65 L3.17,14.91 L0.90,15.00 L0.90,15.00 L0.90,-15.00 Z"/></clipPath><g clip-path="url(#hc20)">
<ellipse cx="0" cy="0" rx="5.13" ry="8.84" transform="translate(-4.1,3.3) rotate(0)" fill="url(#rb)"/>
<ellipse cx="0" cy="0" rx="5.13" ry="8.84" transform="translate(4.7,3.3) rotate(0)" fill="url(#rb)"/>
</g></g>
<g transform="translate(569.5,25.7)" filter="url(#bblur)">
<g transform="rotate(28) scale(0.92,1.12)"><use href="#brain"/></g>
<clipPath id="hc26"><path transform="rotate(28) scale(0.92,1.12)" d="M-0.90,-15.00 L-2.92,-14.91 L-4.52,-14.65 L-5.97,-14.21 L-7.32,-13.61 L-8.57,-12.85 L-9.72,-11.94 L-10.78,-10.89 L-11.73,-9.71 L-12.58,-8.42 L-13.32,-7.03 L-13.94,-5.55 L-14.44,-4.01 L-14.80,-2.43 L-15.04,-0.81 L-15.13,0.81 L-15.08,2.43 L-14.88,4.01 L-14.53,5.55 L-14.04,7.03 L-13.40,8.42 L-12.61,9.71 L-11.68,10.89 L-10.61,11.94 L-9.40,12.85 L-8.06,13.61 L-6.59,14.21 L-4.97,14.65 L-3.17,14.91 L-0.90,15.00 L-0.90,15.00 L-0.90,-15.00 Z M0.90,-15.00 L2.92,-14.91 L4.52,-14.65 L5.97,-14.21 L7.32,-13.61 L8.57,-12.85 L9.72,-11.94 L10.78,-10.89 L11.73,-9.71 L12.58,-8.42 L13.32,-7.03 L13.94,-5.55 L14.44,-4.01 L14.80,-2.43 L15.04,-0.81 L15.13,0.81 L15.08,2.43 L14.88,4.01 L14.53,5.55 L14.04,7.03 L13.40,8.42 L12.61,9.71 L11.68,10.89 L10.61,11.94 L9.40,12.85 L8.06,13.61 L6.59,14.21 L4.97,14.65 L3.17,14.91 L0.90,15.00 L0.90,15.00 L0.90,-15.00 Z"/></clipPath><g clip-path="url(#hc26)">
<ellipse cx="0" cy="0" rx="8.78" ry="7.80" transform="translate(-7.0,-4.6) rotate(30)" fill="url(#rb)"/>
</g></g>
<g transform="translate(421.4,59.2)" filter="url(#bblur)">
<g transform="rotate(-50) scale(1.12,0.98)"><use href="#brainL"/></g>
<clipPath id="hc31"><ellipse cx="0" cy="0" rx="15.2" ry="15" transform="rotate(-50) scale(1.12,0.98)"/></clipPath><g clip-path="url(#hc31)">
<ellipse cx="0" cy="0" rx="10.12" ry="7.15" transform="translate(5.0,-2.6) rotate(-30)" fill="url(#rb)"/>
</g></g>
<g transform="translate(624.2,87.9)" filter="url(#bblur)">
<g transform="rotate(66) scale(0.92,1.12)"><use href="#brain"/></g>
<clipPath id="hc36"><path transform="rotate(66) scale(0.92,1.12)" d="M-0.90,-15.00 L-2.92,-14.91 L-4.52,-14.65 L-5.97,-14.21 L-7.32,-13.61 L-8.57,-12.85 L-9.72,-11.94 L-10.78,-10.89 L-11.73,-9.71 L-12.58,-8.42 L-13.32,-7.03 L-13.94,-5.55 L-14.44,-4.01 L-14.80,-2.43 L-15.04,-0.81 L-15.13,0.81 L-15.08,2.43 L-14.88,4.01 L-14.53,5.55 L-14.04,7.03 L-13.40,8.42 L-12.61,9.71 L-11.68,10.89 L-10.61,11.94 L-9.40,12.85 L-8.06,13.61 L-6.59,14.21 L-4.97,14.65 L-3.17,14.91 L-0.90,15.00 L-0.90,15.00 L-0.90,-15.00 Z M0.90,-15.00 L2.92,-14.91 L4.52,-14.65 L5.97,-14.21 L7.32,-13.61 L8.57,-12.85 L9.72,-11.94 L10.78,-10.89 L11.73,-9.71 L12.58,-8.42 L13.32,-7.03 L13.94,-5.55 L14.44,-4.01 L14.80,-2.43 L15.04,-0.81 L15.13,0.81 L15.08,2.43 L14.88,4.01 L14.53,5.55 L14.04,7.03 L13.40,8.42 L12.61,9.71 L11.68,10.89 L10.61,11.94 L9.40,12.85 L8.06,13.61 L6.59,14.21 L4.97,14.65 L3.17,14.91 L0.90,15.00 L0.90,15.00 L0.90,-15.00 Z"/></clipPath><g clip-path="url(#hc36)">
<ellipse cx="0" cy="0" rx="10.80" ry="8.45" transform="translate(0,-0.2) rotate(-25)" fill="url(#rb)"/>
</g></g>
<g transform="translate(612.9,194.4)" filter="url(#bblur)">
<g transform="rotate(122) scale(0.95,1.06)"><use href="#brain"/></g>
<clipPath id="hc41"><path transform="rotate(122) scale(0.95,1.06)" d="M-0.90,-15.00 L-2.92,-14.91 L-4.52,-14.65 L-5.97,-14.21 L-7.32,-13.61 L-8.57,-12.85 L-9.72,-11.94 L-10.78,-10.89 L-11.73,-9.71 L-12.58,-8.42 L-13.32,-7.03 L-13.94,-5.55 L-14.44,-4.01 L-14.80,-2.43 L-15.04,-0.81 L-15.13,0.81 L-15.08,2.43 L-14.88,4.01 L-14.53,5.55 L-14.04,7.03 L-13.40,8.42 L-12.61,9.71 L-11.68,10.89 L-10.61,11.94 L-9.40,12.85 L-8.06,13.61 L-6.59,14.21 L-4.97,14.65 L-3.17,14.91 L-0.90,15.00 L-0.90,15.00 L-0.90,-15.00 Z M0.90,-15.00 L2.92,-14.91 L4.52,-14.65 L5.97,-14.21 L7.32,-13.61 L8.57,-12.85 L9.72,-11.94 L10.78,-10.89 L11.73,-9.71 L12.58,-8.42 L13.32,-7.03 L13.94,-5.55 L14.44,-4.01 L14.80,-2.43 L15.04,-0.81 L15.13,0.81 L15.08,2.43 L14.88,4.01 L14.53,5.55 L14.04,7.03 L13.40,8.42 L12.61,9.71 L11.68,10.89 L10.61,11.94 L9.40,12.85 L8.06,13.61 L6.59,14.21 L4.97,14.65 L3.17,14.91 L0.90,15.00 L0.90,15.00 L0.90,-15.00 Z"/></clipPath><g clip-path="url(#hc41)">
<ellipse cx="0" cy="0" rx="6.08" ry="7.80" transform="translate(-10.0,-3.0) rotate(30)" fill="url(#rb)"/>
</g></g>
<g transform="translate(549.9,239.8)" filter="url(#bblur)">
<g transform="rotate(170) scale(1.05,0.95)"><use href="#brain"/></g>
<clipPath id="hc46"><path transform="rotate(170) scale(1.05,0.95)" d="M-0.90,-15.00 L-2.92,-14.91 L-4.52,-14.65 L-5.97,-14.21 L-7.32,-13.61 L-8.57,-12.85 L-9.72,-11.94 L-10.78,-10.89 L-11.73,-9.71 L-12.58,-8.42 L-13.32,-7.03 L-13.94,-5.55 L-14.44,-4.01 L-14.80,-2.43 L-15.04,-0.81 L-15.13,0.81 L-15.08,2.43 L-14.88,4.01 L-14.53,5.55 L-14.04,7.03 L-13.40,8.42 L-12.61,9.71 L-11.68,10.89 L-10.61,11.94 L-9.40,12.85 L-8.06,13.61 L-6.59,14.21 L-4.97,14.65 L-3.17,14.91 L-0.90,15.00 L-0.90,15.00 L-0.90,-15.00 Z M0.90,-15.00 L2.92,-14.91 L4.52,-14.65 L5.97,-14.21 L7.32,-13.61 L8.57,-12.85 L9.72,-11.94 L10.78,-10.89 L11.73,-9.71 L12.58,-8.42 L13.32,-7.03 L13.94,-5.55 L14.44,-4.01 L14.80,-2.43 L15.04,-0.81 L15.13,0.81 L15.08,2.43 L14.88,4.01 L14.53,5.55 L14.04,7.03 L13.40,8.42 L12.61,9.71 L11.68,10.89 L10.61,11.94 L9.40,12.85 L8.06,13.61 L6.59,14.21 L4.97,14.65 L3.17,14.91 L0.90,15.00 L0.90,15.00 L0.90,-15.00 Z"/></clipPath><g clip-path="url(#hc46)">
<ellipse cx="0" cy="0" rx="4.32" ry="9.75" transform="translate(-4.8,1.0) rotate(-8)" fill="url(#rb)"/>
<ellipse cx="0" cy="0" rx="4.05" ry="9.10" transform="translate(2.8,0.0) rotate(-8)" fill="url(#rb)"/>
</g></g>
<g transform="translate(508.9,243.8)" filter="url(#bblur)">
<g transform="rotate(180) scale(1.08,0.9)"><use href="#brain"/></g>
<clipPath id="hc52"><path transform="rotate(180) scale(1.08,0.9)" d="M-0.90,-15.00 L-2.92,-14.91 L-4.52,-14.65 L-5.97,-14.21 L-7.32,-13.61 L-8.57,-12.85 L-9.72,-11.94 L-10.78,-10.89 L-11.73,-9.71 L-12.58,-8.42 L-13.32,-7.03 L-13.94,-5.55 L-14.44,-4.01 L-14.80,-2.43 L-15.04,-0.81 L-15.13,0.81 L-15.08,2.43 L-14.88,4.01 L-14.53,5.55 L-14.04,7.03 L-13.40,8.42 L-12.61,9.71 L-11.68,10.89 L-10.61,11.94 L-9.40,12.85 L-8.06,13.61 L-6.59,14.21 L-4.97,14.65 L-3.17,14.91 L-0.90,15.00 L-0.90,15.00 L-0.90,-15.00 Z M0.90,-15.00 L2.92,-14.91 L4.52,-14.65 L5.97,-14.21 L7.32,-13.61 L8.57,-12.85 L9.72,-11.94 L10.78,-10.89 L11.73,-9.71 L12.58,-8.42 L13.32,-7.03 L13.94,-5.55 L14.44,-4.01 L14.80,-2.43 L15.04,-0.81 L15.13,0.81 L15.08,2.43 L14.88,4.01 L14.53,5.55 L14.04,7.03 L13.40,8.42 L12.61,9.71 L11.68,10.89 L10.61,11.94 L9.40,12.85 L8.06,13.61 L6.59,14.21 L4.97,14.65 L3.17,14.91 L0.90,15.00 L0.90,15.00 L0.90,-15.00 Z"/></clipPath><g clip-path="url(#hc52)">
<ellipse cx="0" cy="0" rx="8.10" ry="9.10" transform="translate(-5.5,3.4) rotate(0)" fill="url(#rb)"/>
<ellipse cx="0" cy="0" rx="4.05" ry="6.50" transform="translate(6.0,4.4) rotate(0)" fill="url(#rb)"/>
</g></g>
<g transform="translate(442.4,223.5)" filter="url(#bblur)">
<g transform="rotate(200) scale(1.0,1.05)"><use href="#brain"/></g>
<clipPath id="hc58"><path transform="rotate(200) scale(1.0,1.05)" d="M-0.90,-15.00 L-2.92,-14.91 L-4.52,-14.65 L-5.97,-14.21 L-7.32,-13.61 L-8.57,-12.85 L-9.72,-11.94 L-10.78,-10.89 L-11.73,-9.71 L-12.58,-8.42 L-13.32,-7.03 L-13.94,-5.55 L-14.44,-4.01 L-14.80,-2.43 L-15.04,-0.81 L-15.13,0.81 L-15.08,2.43 L-14.88,4.01 L-14.53,5.55 L-14.04,7.03 L-13.40,8.42 L-12.61,9.71 L-11.68,10.89 L-10.61,11.94 L-9.40,12.85 L-8.06,13.61 L-6.59,14.21 L-4.97,14.65 L-3.17,14.91 L-0.90,15.00 L-0.90,15.00 L-0.90,-15.00 Z M0.90,-15.00 L2.92,-14.91 L4.52,-14.65 L5.97,-14.21 L7.32,-13.61 L8.57,-12.85 L9.72,-11.94 L10.78,-10.89 L11.73,-9.71 L12.58,-8.42 L13.32,-7.03 L13.94,-5.55 L14.44,-4.01 L14.80,-2.43 L15.04,-0.81 L15.13,0.81 L15.08,2.43 L14.88,4.01 L14.53,5.55 L14.04,7.03 L13.40,8.42 L12.61,9.71 L11.68,10.89 L10.61,11.94 L9.40,12.85 L8.06,13.61 L6.59,14.21 L4.97,14.65 L3.17,14.91 L0.90,15.00 L0.90,15.00 L0.90,-15.00 Z"/></clipPath><g clip-path="url(#hc58)">
<ellipse cx="0" cy="0" rx="4.32" ry="7.80" transform="translate(2.4,-5.0) rotate(20)" fill="url(#rb)"/>
<ellipse cx="0" cy="0" rx="4.73" ry="8.45" transform="translate(8.8,-2.5) rotate(20)" fill="url(#rb)"/>
</g></g>
<g transform="translate(408.9,180.2)" filter="url(#bblur)">
<g transform="rotate(255) scale(1.0,1.08)"><use href="#brain"/></g>
<clipPath id="hc64"><path transform="rotate(255) scale(1.0,1.08)" d="M-0.90,-15.00 L-2.92,-14.91 L-4.52,-14.65 L-5.97,-14.21 L-7.32,-13.61 L-8.57,-12.85 L-9.72,-11.94 L-10.78,-10.89 L-11.73,-9.71 L-12.58,-8.42 L-13.32,-7.03 L-13.94,-5.55 L-14.44,-4.01 L-14.80,-2.43 L-15.04,-0.81 L-15.13,0.81 L-15.08,2.43 L-14.88,4.01 L-14.53,5.55 L-14.04,7.03 L-13.40,8.42 L-12.61,9.71 L-11.68,10.89 L-10.61,11.94 L-9.40,12.85 L-8.06,13.61 L-6.59,14.21 L-4.97,14.65 L-3.17,14.91 L-0.90,15.00 L-0.90,15.00 L-0.90,-15.00 Z M0.90,-15.00 L2.92,-14.91 L4.52,-14.65 L5.97,-14.21 L7.32,-13.61 L8.57,-12.85 L9.72,-11.94 L10.78,-10.89 L11.73,-9.71 L12.58,-8.42 L13.32,-7.03 L13.94,-5.55 L14.44,-4.01 L14.80,-2.43 L15.04,-0.81 L15.13,0.81 L15.08,2.43 L14.88,4.01 L14.53,5.55 L14.04,7.03 L13.40,8.42 L12.61,9.71 L11.68,10.89 L10.61,11.94 L9.40,12.85 L8.06,13.61 L6.59,14.21 L4.97,14.65 L3.17,14.91 L0.90,15.00 L0.90,15.00 L0.90,-15.00 Z"/></clipPath><g clip-path="url(#hc64)">
<ellipse cx="0" cy="0" rx="6.75" ry="5.20" transform="translate(-9.8,10.0) rotate(-15)" fill="url(#rb)"/>
<ellipse cx="0" cy="0" rx="5.40" ry="4.55" transform="translate(-1.5,10.8) rotate(-15)" fill="url(#rb)"/>
</g></g>
<text x="516.51" y="35.16" font-size="7.9" text-anchor="middle" dominant-baseline="central" fill="#1a1a1a" transform="rotate(0 516.51 35.16)">CEN</text>
<text x="558.67" y="45.73" font-size="7.9" text-anchor="middle" dominant-baseline="central" fill="#1a1a1a" transform="rotate(25 558.67 45.73)">rPIN</text>
<text x="603.91" y="96.41" font-size="7.9" text-anchor="middle" dominant-baseline="central" fill="#1a1a1a" transform="rotate(69 603.91 96.41)">SMN</text>
<text x="595.31" y="181.05" font-size="7.9" text-anchor="middle" dominant-baseline="central" fill="#1a1a1a" transform="rotate(-57.6 595.31 181.05)">pDMN</text>
<text x="542.56" y="221.10" font-size="7.9" text-anchor="middle" dominant-baseline="central" fill="#1a1a1a" transform="rotate(-16.8 542.56 221.10)">aDMN</text>
<text x="512.94" y="225.13" font-size="7.9" text-anchor="middle" dominant-baseline="central" fill="#1a1a1a" transform="rotate(1.3 512.94 225.13)">PVN</text>
<text x="458.99" y="206.81" font-size="7.9" text-anchor="middle" dominant-baseline="central" fill="#1a1a1a" transform="rotate(37 458.99 206.81)">VN</text>
<text x="429.86" y="172.09" font-size="7.9" text-anchor="middle" dominant-baseline="central" fill="#1a1a1a" transform="rotate(63.8 429.86 172.09)">SRN</text>
<text x="439.43" y="72.71" font-size="7.9" text-anchor="middle" dominant-baseline="central" fill="#1a1a1a" transform="rotate(-52.8 439.43 72.71)">lPIN</text>
<text x="356.9" y="49.0" font-size="14" fill="#111">B</text>
<g id="panelA">
<clipPath id="clipA"><rect x="53.7" y="46.6" width="261.90000000000003" height="174.6"/></clipPath>
<g clip-path="url(#clipA)">
<path d="M53.70,62.00 L54.70,69.21 L55.70,76.42 L56.70,83.63 L57.70,90.84 L58.70,96.62 L59.70,101.78 L60.70,106.95 L61.70,112.12 L62.70,117.28 L63.70,122.45 L64.70,125.63 L65.70,127.97 L66.70,130.30 L67.70,132.63 L68.70,134.97 L69.70,137.30 L70.70,138.75 L71.70,139.83 L72.70,140.90 L73.70,141.98 L74.70,143.05 L75.70,143.82 L76.70,144.14 L77.70,144.45 L78.70,144.76 L79.70,145.07 L80.70,145.38 L81.70,145.69 L82.70,146.00 L83.70,146.42 L84.70,146.83 L85.70,147.25 L86.70,147.66 L87.70,148.08 L88.70,148.49 L89.70,148.91 L90.70,149.33 L91.70,149.71 L92.70,149.86 L93.70,150.00 L94.70,150.15 L95.70,150.29 L96.70,150.44 L97.70,150.58 L98.70,150.72 L99.70,150.87 L100.70,151.01 L101.70,151.16 L102.70,151.47 L103.70,151.87 L104.70,152.26 L105.70,152.65 L106.70,153.04 L107.70,153.43 L108.70,153.83 L109.70,154.36 L110.70,155.25 L111.70,156.13 L112.70,157.01 L113.70,157.89 L114.70,158.77 L115.70,159.34 L116.70,159.43 L117.70,159.52 L118.70,159.62 L119.70,159.71 L120.70,159.80 L121.70,159.90 L122.70,159.99 L123.70,158.83 L124.70,157.52 L125.70,156.22 L126.70,154.91 L127.70,153.61 L128.70,152.31 L129.70,151.00 L130.70,149.70 L131.70,148.40 L132.70,147.09 L133.70,145.87 L134.70,144.68 L135.70,143.48 L136.70,142.29 L137.70,141.10 L138.70,139.91 L139.70,138.72 L140.70,138.32 L141.70,138.02 L142.70,137.71 L143.70,137.40 L144.70,137.10 L145.70,136.79 L146.70,136.48 L147.70,136.46 L148.70,136.87 L149.70,137.27 L150.70,137.68 L151.70,138.08 L152.70,138.49 L153.70,138.89 L154.70,139.30 L155.70,140.71 L156.70,142.11 L157.70,143.52 L158.70,144.92 L159.70,146.33 L160.70,147.73 L161.70,149.14 L162.70,150.36 L163.70,151.45 L164.70,152.55 L165.70,153.64 L166.70,154.74 L167.70,155.83 L168.70,156.92 L169.70,157.91 L170.70,158.48 L171.70,159.04 L172.70,159.60 L173.70,160.16 L174.70,160.73 L175.70,161.29 L176.70,161.85 L177.70,162.42 L178.70,162.98 L179.70,163.54 L180.70,164.11 L181.70,164.37 L182.70,163.95 L183.70,163.53 L184.70,163.10 L185.70,162.68 L186.70,162.26 L187.70,161.83 L188.70,161.41 L189.70,160.99 L190.70,160.57 L191.70,160.14 L192.70,158.96 L193.70,157.69 L194.70,156.42 L195.70,155.15 L196.70,153.89 L197.70,152.62 L198.70,151.35 L199.70,150.08 L200.70,149.96 L201.70,150.33 L202.70,150.70 L203.70,151.07 L204.70,151.44 L205.70,151.81 L206.70,152.18 L207.70,152.55 L208.70,152.92 L209.70,153.29 L210.70,153.66 L211.70,154.03 L212.70,154.01 L213.70,153.89 L214.70,153.77 L215.70,153.65 L216.70,153.53 L217.70,153.41 L218.70,153.29 L219.70,153.17 L220.70,153.06 L221.70,152.94 L222.70,152.82 L223.70,152.70 L224.70,153.20 L225.70,153.69 L226.70,154.19 L227.70,154.68 L228.70,155.18 L229.70,155.67 L230.70,156.17 L231.70,156.67 L232.70,157.16 L233.70,157.66 L234.70,158.15 L235.70,158.61 L236.70,158.69 L237.70,158.77 L238.70,158.84 L239.70,158.92 L240.70,159.00 L241.70,159.08 L242.70,159.16 L243.70,159.24 L244.70,159.30 L245.70,159.30 L246.70,159.30 L247.70,159.30 L248.70,159.30 L249.70,159.30 L250.70,159.30 L251.70,159.30 L252.70,159.30 L253.70,159.30 L254.70,159.30 L255.70,159.30 L256.70,159.41 L257.70,159.76 L258.70,160.12 L259.70,160.47 L260.70,160.83 L261.70,161.19 L262.70,161.54 L263.70,161.90 L264.70,162.25 L265.70,162.61 L266.70,162.96 L267.70,163.17 L268.70,163.35 L269.70,163.54 L270.70,163.72 L271.70,163.91 L272.70,164.09 L273.70,164.28 L274.70,164.46 L275.70,164.99 L276.70,165.59 L277.70,166.20 L278.70,166.81 L279.70,167.42 L280.70,168.03 L281.70,168.64 L282.70,169.60 L283.70,171.11 L284.70,172.62 L285.70,174.13 L286.70,175.64 L287.70,177.15 L288.70,177.80 L289.70,177.60 L290.70,177.39 L291.70,177.19 L292.70,176.99 L293.70,176.79 L294.70,176.58 L295.70,176.39 L296.70,176.30 L297.70,176.20 L298.70,176.11 L299.70,176.02 L300.70,175.92 L301.70,175.83 L302.70,175.74 L303.70,176.03 L304.70,176.57 L305.70,177.12 L306.70,177.66 L307.70,178.21 L308.70,178.75 L309.70,179.30 L310.70,179.84 L311.70,180.38 L312.70,180.93 L313.70,181.47 L314.70,182.02 L315.40,182.40 L315.40,197.20 L314.70,196.92 L313.70,196.53 L312.70,196.14 L311.70,195.74 L310.70,195.35 L309.70,194.96 L308.70,194.56 L307.70,194.17 L306.70,193.78 L305.70,193.56 L304.70,193.76 L303.70,193.97 L302.70,194.17 L301.70,194.37 L300.70,194.57 L299.70,194.78 L298.70,194.98 L297.70,195.09 L296.70,195.18 L295.70,195.27 L294.70,195.37 L293.70,195.46 L292.70,195.56 L291.70,195.65 L290.70,194.90 L289.70,193.31 L288.70,191.71 L287.70,190.12 L286.70,188.52 L285.70,186.93 L284.70,185.34 L283.70,183.87 L282.70,183.53 L281.70,183.19 L280.70,182.86 L279.70,182.52 L278.70,182.18 L277.70,181.84 L276.70,181.51 L275.70,181.17 L274.70,180.90 L273.70,180.90 L272.70,180.90 L271.70,180.90 L270.70,180.90 L269.70,180.90 L268.70,180.90 L267.70,180.90 L266.70,180.90 L265.70,180.90 L264.70,180.90 L263.70,180.84 L262.70,180.23 L261.70,179.62 L260.70,179.01 L259.70,178.41 L258.70,177.80 L257.70,177.19 L256.70,176.58 L255.70,176.58 L254.70,176.83 L253.70,177.08 L252.70,177.33 L251.70,177.58 L250.70,177.84 L249.70,178.09 L248.70,178.34 L247.70,178.59 L246.70,178.85 L245.70,179.10 L244.70,179.35 L243.70,179.13 L242.70,178.79 L241.70,178.46 L240.70,178.12 L239.70,177.78 L238.70,177.44 L237.70,177.11 L236.70,176.77 L235.70,176.43 L234.70,175.78 L233.70,175.09 L232.70,174.40 L231.70,173.71 L230.70,173.02 L229.70,172.33 L228.70,171.65 L227.70,170.96 L226.70,170.27 L225.70,169.58 L224.70,168.89 L223.70,168.20 L222.70,168.01 L221.70,167.83 L220.70,167.64 L219.70,167.45 L218.70,167.27 L217.70,167.08 L216.70,166.89 L215.70,166.71 L214.70,166.52 L213.70,166.34 L212.70,166.15 L211.70,166.01 L210.70,166.07 L209.70,166.13 L208.70,166.18 L207.70,166.24 L206.70,166.30 L205.70,166.35 L204.70,166.41 L203.70,166.47 L202.70,166.52 L201.70,166.58 L200.70,166.64 L199.70,166.69 L198.70,167.49 L197.70,168.38 L196.70,169.26 L195.70,170.14 L194.70,171.02 L193.70,171.90 L192.70,172.78 L191.70,173.67 L190.70,174.55 L189.70,175.51 L188.70,176.53 L187.70,177.54 L186.70,178.56 L185.70,179.58 L184.70,180.59 L183.70,180.78 L182.70,180.61 L181.70,180.44 L180.70,180.28 L179.70,180.11 L178.70,179.94 L177.70,179.77 L176.70,179.60 L175.70,179.43 L174.70,178.41 L173.70,177.18 L172.70,175.95 L171.70,174.71 L170.70,173.48 L169.70,172.25 L168.70,171.19 L167.70,170.18 L166.70,169.16 L165.70,168.15 L164.70,167.14 L163.70,166.12 L162.70,165.11 L161.70,164.10 L160.70,163.10 L159.70,162.10 L158.70,161.10 L157.70,160.10 L156.70,159.10 L155.70,158.10 L154.70,157.10 L153.70,156.60 L152.70,156.10 L151.70,155.60 L150.70,155.10 L149.70,154.60 L148.70,154.10 L147.70,153.60 L146.70,153.58 L145.70,153.87 L144.70,154.16 L143.70,154.46 L142.70,154.75 L141.70,155.04 L140.70,155.34 L139.70,155.80 L138.70,157.77 L137.70,159.74 L136.70,161.71 L135.70,163.68 L134.70,165.65 L133.70,167.62 L132.70,169.27 L131.70,170.16 L130.70,171.04 L129.70,171.93 L128.70,172.82 L127.70,173.71 L126.70,174.60 L125.70,175.49 L124.70,176.38 L123.70,177.27 L122.70,178.16 L121.70,179.04 L120.70,179.62 L119.70,179.99 L118.70,180.35 L117.70,180.72 L116.70,181.09 L115.70,181.45 L114.70,180.89 L113.70,179.71 L112.70,178.53 L111.70,177.35 L110.70,176.15 L109.70,174.89 L108.70,173.64 L107.70,172.39 L106.70,171.13 L105.70,169.88 L104.70,168.95 L103.70,168.78 L102.70,168.62 L101.70,168.45 L100.70,168.28 L99.70,168.12 L98.70,167.95 L97.70,167.78 L96.70,167.62 L95.70,167.41 L94.70,167.12 L93.70,166.83 L92.70,166.54 L91.70,166.25 L90.70,165.96 L89.70,165.67 L88.70,165.37 L87.70,165.08 L86.70,164.79 L85.70,164.50 L84.70,164.07 L83.70,163.63 L82.70,163.20 L81.70,162.77 L80.70,162.34 L79.70,161.90 L78.70,161.47 L77.70,161.04 L76.70,160.61 L75.70,160.17 L74.70,159.21 L73.70,157.89 L72.70,156.57 L71.70,155.25 L70.70,153.92 L69.70,152.15 L68.70,149.32 L67.70,146.48 L66.70,143.65 L65.70,140.82 L64.70,137.98 L63.70,134.25 L62.70,128.42 L61.70,122.58 L60.70,116.75 L59.70,110.92 L58.70,105.08 L57.70,98.52 L56.70,90.27 L55.70,82.01 L54.70,73.76 L53.70,65.50 Z" fill="rgb(201,84,104)" fill-opacity="0.35"/>
<path d="M53.70,68.50 L54.70,76.06 L55.70,83.62 L56.70,91.17 L57.70,98.73 L58.70,104.50 L59.70,109.50 L60.70,114.50 L61.70,119.50 L62.70,124.50 L63.70,129.50 L64.70,133.45 L65.70,136.95 L66.70,140.45 L67.70,143.95 L68.70,146.14 L69.70,147.77 L70.70,149.40 L71.70,151.02 L72.70,152.26 L73.70,152.91 L74.70,153.56 L75.70,154.21 L76.70,154.86 L77.70,155.51 L78.70,156.16 L79.70,156.81 L80.70,157.30 L81.70,157.72 L82.70,158.14 L83.70,158.56 L84.70,158.99 L85.70,159.41 L86.70,159.83 L87.70,159.82 L88.70,159.52 L89.70,159.21 L90.70,158.91 L91.70,158.61 L92.70,158.31 L93.70,158.00 L94.70,157.70 L95.70,157.40 L96.70,157.10 L97.70,156.79 L98.70,156.49 L99.70,156.20 L100.70,155.91 L101.70,155.62 L102.70,155.33 L103.70,155.04 L104.70,154.76 L105.70,154.47 L106.70,154.18 L107.70,153.89 L108.70,153.60 L109.70,153.67 L110.70,154.56 L111.70,155.45 L112.70,156.34 L113.70,157.24 L114.70,158.13 L115.70,159.02 L116.70,159.91 L117.70,160.55 L118.70,161.16 L119.70,161.77 L120.70,162.38 L121.70,162.99 L122.70,163.60 L123.70,164.21 L124.70,164.82 L125.70,164.39 L126.70,163.51 L127.70,162.64 L128.70,161.76 L129.70,160.89 L130.70,160.01 L131.70,159.14 L132.70,158.26 L133.70,157.53 L134.70,156.85 L135.70,156.17 L136.70,155.50 L137.70,154.82 L138.70,154.14 L139.70,153.47 L140.70,153.80 L141.70,154.25 L142.70,154.70 L143.70,155.15 L144.70,155.60 L145.70,156.05 L146.70,156.50 L147.70,156.95 L148.70,157.40 L149.70,157.85 L150.70,158.30 L151.70,158.75 L152.70,159.20 L153.70,159.65 L154.70,160.10 L155.70,160.45 L156.70,160.80 L157.70,161.15 L158.70,161.51 L159.70,161.86 L160.70,162.21 L161.70,162.56 L162.70,162.91 L163.70,163.26 L164.70,163.61 L165.70,163.96 L166.70,164.32 L167.70,164.67 L168.70,165.02 L169.70,165.21 L170.70,164.78 L171.70,164.34 L172.70,163.90 L173.70,163.46 L174.70,163.03 L175.70,162.59 L176.70,162.15 L177.70,161.72 L178.70,161.28 L179.70,160.84 L180.70,160.41 L181.70,159.57 L182.70,157.81 L183.70,156.05 L184.70,154.28 L185.70,152.52 L186.70,150.76 L187.70,149.70 L188.70,149.70 L189.70,149.70 L190.70,149.70 L191.70,149.70 L192.70,149.70 L193.70,149.70 L194.70,149.70 L195.70,149.70 L196.70,149.55 L197.70,149.24 L198.70,148.93 L199.70,148.63 L200.70,148.32 L201.70,148.01 L202.70,147.71 L203.70,147.40 L204.70,147.09 L205.70,146.76 L206.70,146.43 L207.70,146.09 L208.70,145.75 L209.70,145.42 L210.70,145.08 L211.70,144.74 L212.70,144.41 L213.70,144.07 L214.70,143.73 L215.70,144.31 L216.70,144.98 L217.70,145.66 L218.70,146.33 L219.70,147.00 L220.70,147.68 L221.70,148.35 L222.70,149.03 L223.70,149.70 L224.70,149.70 L225.70,149.70 L226.70,149.70 L227.70,149.70 L228.70,149.70 L229.70,149.70 L230.70,149.70 L231.70,149.70 L232.70,149.70 L233.70,150.28 L234.70,150.87 L235.70,151.45 L236.70,152.04 L237.70,152.62 L238.70,153.21 L239.70,153.79 L240.70,154.37 L241.70,154.90 L242.70,154.90 L243.70,154.90 L244.70,154.90 L245.70,154.90 L246.70,154.90 L247.70,154.90 L248.70,154.90 L249.70,154.90 L250.70,155.03 L251.70,155.70 L252.70,156.36 L253.70,157.02 L254.70,157.68 L255.70,158.35 L256.70,159.01 L257.70,159.67 L258.70,160.34 L259.70,160.84 L260.70,160.99 L261.70,161.14 L262.70,161.29 L263.70,161.44 L264.70,161.59 L265.70,161.74 L266.70,161.89 L267.70,162.03 L268.70,162.18 L269.70,162.33 L270.70,162.48 L271.70,162.63 L272.70,162.78 L273.70,162.93 L274.70,162.78 L275.70,162.35 L276.70,161.92 L277.70,161.49 L278.70,161.06 L279.70,160.74 L280.70,160.60 L281.70,160.45 L282.70,160.31 L283.70,160.17 L284.70,160.02 L285.70,159.88 L286.70,159.73 L287.70,159.59 L288.70,159.44 L289.70,159.30 L290.70,159.14 L291.70,158.99 L292.70,158.83 L293.70,158.67 L294.70,158.51 L295.70,158.36 L296.70,158.20 L297.70,158.04 L298.70,157.99 L299.70,158.88 L300.70,159.77 L301.70,160.66 L302.70,161.56 L303.70,162.45 L304.70,163.34 L305.70,164.23 L306.70,165.39 L307.70,166.65 L308.70,167.92 L309.70,169.18 L310.70,170.45 L311.70,171.72 L312.70,172.98 L313.70,174.25 L314.70,175.51 L315.40,176.40 L315.40,191.30 L314.70,190.41 L313.70,189.14 L312.70,187.88 L311.70,186.61 L310.70,185.34 L309.70,184.07 L308.70,182.80 L307.70,181.53 L306.70,180.27 L305.70,179.00 L304.70,177.73 L303.70,176.46 L302.70,175.60 L301.70,175.35 L300.70,175.10 L299.70,174.85 L298.70,174.60 L297.70,174.35 L296.70,174.24 L295.70,174.33 L294.70,174.42 L293.70,174.51 L292.70,174.60 L291.70,174.69 L290.70,174.78 L289.70,174.87 L288.70,174.96 L287.70,175.18 L286.70,175.53 L285.70,175.88 L284.70,176.24 L283.70,176.59 L282.70,176.95 L281.70,177.30 L280.70,177.65 L279.70,178.03 L278.70,178.45 L277.70,178.87 L276.70,179.29 L275.70,179.71 L274.70,180.13 L273.70,180.55 L272.70,180.97 L271.70,181.39 L270.70,181.55 L269.70,181.46 L268.70,181.36 L267.70,181.27 L266.70,181.17 L265.70,181.08 L264.70,180.99 L263.70,180.84 L262.70,180.21 L261.70,179.58 L260.70,178.95 L259.70,178.32 L258.70,177.69 L257.70,177.06 L256.70,176.43 L255.70,175.79 L254.70,175.16 L253.70,174.53 L252.70,173.90 L251.70,173.36 L250.70,173.16 L249.70,172.97 L248.70,172.77 L247.70,172.58 L246.70,172.38 L245.70,172.19 L244.70,171.99 L243.70,171.79 L242.70,171.60 L241.70,171.40 L240.70,171.21 L239.70,171.01 L238.70,170.81 L237.70,170.62 L236.70,170.50 L235.70,170.50 L234.70,170.50 L233.70,170.50 L232.70,170.50 L231.70,170.50 L230.70,170.50 L229.70,170.50 L228.70,170.50 L227.70,170.50 L226.70,170.50 L225.70,170.50 L224.70,170.36 L223.70,170.09 L222.70,169.81 L221.70,169.53 L220.70,169.26 L219.70,168.98 L218.70,168.71 L217.70,168.43 L216.70,168.15 L215.70,167.88 L214.70,167.60 L213.70,167.33 L212.70,167.05 L211.70,166.77 L210.70,166.50 L209.70,166.22 L208.70,166.06 L207.70,166.34 L206.70,166.62 L205.70,166.90 L204.70,167.18 L203.70,167.46 L202.70,167.74 L201.70,168.02 L200.70,168.30 L199.70,168.46 L198.70,168.34 L197.70,168.22 L196.70,168.10 L195.70,167.98 L194.70,167.85 L193.70,167.73 L192.70,167.61 L191.70,167.63 L190.70,168.93 L189.70,170.22 L188.70,171.52 L187.70,172.82 L186.70,174.12 L185.70,175.41 L184.70,176.71 L183.70,177.22 L182.70,177.39 L181.70,177.56 L180.70,177.74 L179.70,177.91 L178.70,178.08 L177.70,178.25 L176.70,178.42 L175.70,178.59 L174.70,178.76 L173.70,178.94 L172.70,179.11 L171.70,179.28 L170.70,179.45 L169.70,179.62 L168.70,179.79 L167.70,179.96 L166.70,180.12 L165.70,180.29 L164.70,180.46 L163.70,180.63 L162.70,180.80 L161.70,180.66 L160.70,180.05 L159.70,179.44 L158.70,178.83 L157.70,178.22 L156.70,177.62 L155.70,177.01 L154.70,176.40 L153.70,176.00 L152.70,175.61 L151.70,175.21 L150.70,174.82 L149.70,174.42 L148.70,174.02 L147.70,173.63 L146.70,173.23 L145.70,172.84 L144.70,172.44 L143.70,172.04 L142.70,171.65 L141.70,171.25 L140.70,170.86 L139.70,170.63 L138.70,171.94 L137.70,173.25 L136.70,174.56 L135.70,175.87 L134.70,177.18 L133.70,178.48 L132.70,179.55 L131.70,180.05 L130.70,180.55 L129.70,181.05 L128.70,181.55 L127.70,182.05 L126.70,182.55 L125.70,183.05 L124.70,183.55 L123.70,183.45 L122.70,182.75 L121.70,182.04 L120.70,181.34 L119.70,180.64 L118.70,179.94 L117.70,179.23 L116.70,178.52 L115.70,177.72 L114.70,176.93 L113.70,176.13 L112.70,175.33 L111.70,174.53 L110.70,173.74 L109.70,172.94 L108.70,172.91 L107.70,173.21 L106.70,173.50 L105.70,173.80 L104.70,174.10 L103.70,174.39 L102.70,174.69 L101.70,174.94 L100.70,175.09 L99.70,175.23 L98.70,175.38 L97.70,175.52 L96.70,175.66 L95.70,175.81 L94.70,175.95 L93.70,176.10 L92.70,176.24 L91.70,176.39 L90.70,176.86 L89.70,177.36 L88.70,177.87 L87.70,178.37 L86.70,178.88 L85.70,179.38 L84.70,179.89 L83.70,180.39 L82.70,180.90 L81.70,180.18 L80.70,179.46 L79.70,178.74 L78.70,178.02 L77.70,177.29 L76.70,176.57 L75.70,175.85 L74.70,175.13 L73.70,174.41 L72.70,173.69 L71.70,171.81 L70.70,169.16 L69.70,166.51 L68.70,163.86 L67.70,160.80 L66.70,156.80 L65.70,152.80 L64.70,148.80 L63.70,144.10 L62.70,137.77 L61.70,131.43 L60.70,125.10 L59.70,118.77 L58.70,112.43 L57.70,105.49 L56.70,97.12 L55.70,88.74 L54.70,80.37 L53.70,72.00 Z" fill="rgb(101,161,181)" fill-opacity="0.35"/>
<path d="M53.70,64.21 L54.40,68.55 L55.10,74.78 L55.80,79.83 L56.50,84.65 L57.20,89.51 L57.90,93.85 L58.60,98.83 L59.30,102.85 L60.00,108.07 L60.70,111.47 L61.40,115.07 L62.10,118.24 L62.80,121.31 L63.50,124.37 L64.20,127.69 L64.90,130.96 L65.60,133.18 L66.30,135.87 L67.00,137.98 L67.70,140.43 L68.40,143.20 L69.10,144.67 L69.80,145.85 L70.50,147.38 L71.20,149.01 L71.90,150.61 L72.60,151.05 L73.30,152.04 L74.00,153.34 L74.70,153.56 L75.40,153.65 L76.10,153.88 L76.80,153.74 L77.50,153.56 L78.20,153.64 L78.90,152.70 L79.60,153.87 L80.30,153.64 L81.00,153.71 L81.70,154.46 L82.40,154.82 L83.10,154.79 L83.80,154.88 L84.50,155.43 L85.20,155.71 L85.90,156.37 L86.60,156.50 L87.30,156.66 L88.00,157.19 L88.70,157.16 L89.40,157.27 L90.10,157.95 L90.80,158.40 L91.50,158.65 L92.20,158.96 L92.90,159.66 L93.60,159.43 L94.30,160.68 L95.00,161.08 L95.70,161.00 L96.40,161.50 L97.10,161.03 L97.80,161.25 L98.50,160.34 L99.20,160.41 L99.90,160.61 L100.60,160.51 L101.30,159.47 L102.00,159.68 L102.70,160.28 L103.40,160.44 L104.10,161.39 L104.80,161.09 L105.50,161.88 L106.20,161.92 L106.90,163.06 L107.60,163.28 L108.30,163.77 L109.00,164.01 L109.70,165.43 L110.40,165.78 L111.10,166.59 L111.80,168.08 L112.50,169.29 L113.20,170.44 L113.90,171.80 L114.60,171.83 L115.30,172.41 L116.00,171.73 L116.70,171.98 L117.40,172.08 L118.10,172.25 L118.80,171.99 L119.50,171.03 L120.20,170.42 L120.90,170.35 L121.60,170.16 L122.30,169.54 L123.00,168.92 L123.70,168.31 L124.40,167.98 L125.10,167.30 L125.80,166.61 L126.50,165.26 L127.20,164.53 L127.90,163.59 L128.60,162.87 L129.30,161.91 L130.00,161.39 L130.70,159.93 L131.40,158.74 L132.10,156.66 L132.80,155.89 L133.50,154.63 L134.20,153.84 L134.90,152.22 L135.60,152.16 L136.30,151.22 L137.00,149.71 L137.70,148.87 L138.40,148.00 L139.10,147.56 L139.80,147.06 L140.50,146.76 L141.20,145.54 L141.90,145.45 L142.60,145.02 L143.30,145.14 L144.00,144.61 L144.70,144.48 L145.40,143.59 L146.10,143.73 L146.80,143.77 L147.50,144.54 L148.20,144.52 L148.90,144.47 L149.60,144.62 L150.30,145.09 L151.00,145.31 L151.70,145.77 L152.40,146.63 L153.10,147.64 L153.80,147.48 L154.50,147.91 L155.20,148.58 L155.90,149.48 L156.60,150.88 L157.30,151.90 L158.00,152.63 L158.70,153.65 L159.40,154.53 L160.10,155.47 L160.80,155.99 L161.50,157.19 L162.20,158.26 L162.90,158.97 L163.60,159.98 L164.30,160.60 L165.00,161.42 L165.70,162.41 L166.40,162.80 L167.10,163.56 L167.80,164.50 L168.50,165.16 L169.20,166.12 L169.90,165.88 L170.60,167.31 L171.30,167.68 L172.00,168.53 L172.70,169.37 L173.40,170.00 L174.10,170.56 L174.80,170.90 L175.50,171.83 L176.20,171.93 L176.90,172.00 L177.60,172.26 L178.30,171.96 L179.00,172.66 L179.70,172.41 L180.40,172.73 L181.10,172.18 L181.80,172.06 L182.50,172.17 L183.20,172.29 L183.90,171.93 L184.60,172.14 L185.30,172.02 L186.00,172.32 L186.70,171.14 L187.40,170.97 L188.10,169.94 L188.80,169.26 L189.50,168.71 L190.20,167.99 L190.90,167.74 L191.60,167.39 L192.30,166.60 L193.00,166.14 L193.70,165.81 L194.40,164.90 L195.10,164.25 L195.80,163.43 L196.50,162.40 L197.20,162.29 L197.90,160.96 L198.60,160.86 L199.30,160.06 L200.00,160.07 L200.70,159.49 L201.40,159.03 L202.10,159.04 L202.80,158.54 L203.50,158.80 L204.20,159.21 L204.90,159.52 L205.60,159.85 L206.30,160.04 L207.00,160.55 L207.70,160.37 L208.40,161.09 L209.10,161.07 L209.80,161.88 L210.50,162.15 L211.20,161.58 L211.90,162.34 L212.60,162.19 L213.30,161.87 L214.00,162.18 L214.70,161.85 L215.40,161.44 L216.10,161.74 L216.80,161.68 L217.50,161.66 L218.20,161.29 L218.90,161.75 L219.60,161.78 L220.30,161.31 L221.00,161.44 L221.70,161.58 L222.40,161.46 L223.10,162.04 L223.80,161.68 L224.50,161.53 L225.20,161.75 L225.90,162.10 L226.60,162.85 L227.30,162.40 L228.00,162.64 L228.70,162.90 L229.40,162.92 L230.10,163.92 L230.80,163.84 L231.50,164.77 L232.20,165.24 L232.90,165.98 L233.60,166.14 L234.30,167.50 L235.00,167.64 L235.70,168.29 L236.40,168.61 L237.10,169.23 L237.80,170.12 L238.50,170.80 L239.20,171.31 L239.90,171.10 L240.60,170.50 L241.30,169.86 L242.00,169.58 L242.70,169.05 L243.40,169.02 L244.10,169.84 L244.80,170.58 L245.50,170.93 L246.20,171.39 L246.90,172.16 L247.60,172.30 L248.30,171.62 L249.00,171.50 L249.70,171.34 L250.40,171.53 L251.10,170.12 L251.80,169.95 L252.50,169.43 L253.20,168.20 L253.90,168.83 L254.60,168.95 L255.30,169.03 L256.00,169.58 L256.70,169.50 L257.40,170.10 L258.10,170.97 L258.80,170.34 L259.50,171.07 L260.20,170.64 L260.90,170.95 L261.60,170.76 L262.30,170.24 L263.00,170.84 L263.70,171.22 L264.40,171.07 L265.10,171.21 L265.80,171.82 L266.50,171.76 L267.20,171.50 L267.90,171.63 L268.60,171.89 L269.30,171.43 L270.00,171.65 L270.70,171.67 L271.40,171.21 L272.10,170.92 L272.80,170.87 L273.50,171.19 L274.20,171.42 L274.90,171.27 L275.60,171.34 L276.30,171.24 L277.00,171.61 L277.70,171.60 L278.40,171.82 L279.10,171.76 L279.80,171.87 L280.50,172.32 L281.20,172.35 L281.90,172.77 L282.60,173.71 L283.30,174.05 L284.00,175.35 L284.70,175.63 L285.40,176.64 L286.10,178.39 L286.80,179.71 L287.50,181.02 L288.20,183.03 L288.90,184.12 L289.60,185.11 L290.30,187.12 L291.00,187.72 L291.70,189.20 L292.40,188.73 L293.10,188.32 L293.80,188.72 L294.50,187.78 L295.20,187.81 L295.90,187.84 L296.60,187.23 L297.30,186.91 L298.00,186.68 L298.70,186.59 L299.40,185.90 L300.10,185.84 L300.80,185.41 L301.50,185.43 L302.20,184.35 L302.90,183.79 L303.60,184.33 L304.30,184.38 L305.00,184.89 L305.70,185.19 L306.40,185.70 L307.10,185.43 L307.80,185.76 L308.50,185.33 L309.20,185.93 L309.90,186.72 L310.60,186.39 L311.30,186.78 L312.00,187.05 L312.70,187.90 L313.40,188.20 L314.10,188.26 L314.80,189.12 L315.50,189.37 L315.40,189.49" fill="none" stroke="#c41e30" stroke-width="2.0" stroke-linejoin="round"/>
<path d="M53.70,70.71 L54.40,74.68 L55.10,80.55 L55.80,85.47 L56.50,90.79 L57.20,96.13 L57.90,100.97 L58.60,106.43 L59.30,110.93 L60.00,116.62 L60.70,120.50 L61.40,124.37 L62.10,127.54 L62.80,130.61 L63.50,133.67 L64.20,136.99 L64.90,140.26 L65.60,142.48 L66.30,145.17 L67.00,147.28 L67.70,149.73 L68.40,152.50 L69.10,154.52 L69.80,156.47 L70.50,158.59 L71.20,159.69 L71.90,160.97 L72.60,161.34 L73.30,162.28 L74.00,163.39 L74.70,163.39 L75.40,164.02 L76.10,164.79 L76.80,165.19 L77.50,165.55 L78.20,166.17 L78.90,165.90 L79.60,167.47 L80.30,167.58 L81.00,168.01 L81.70,169.10 L82.40,169.81 L83.10,170.13 L83.80,169.78 L84.50,169.26 L85.20,168.44 L85.90,168.01 L86.60,167.05 L87.30,166.34 L88.00,166.53 L88.70,166.16 L89.40,165.94 L90.10,166.27 L90.80,166.23 L91.50,165.99 L92.20,165.81 L92.90,166.30 L93.60,165.90 L94.30,166.97 L95.00,167.20 L95.70,166.95 L96.40,167.66 L97.10,167.41 L97.80,167.51 L98.50,166.47 L99.20,166.42 L99.90,166.49 L100.60,166.26 L101.30,165.10 L102.00,165.18 L102.70,165.07 L103.40,164.53 L104.10,164.77 L104.80,163.76 L105.50,163.84 L106.20,163.18 L106.90,163.48 L107.60,162.90 L108.30,162.64 L109.00,162.14 L109.70,162.82 L110.40,162.90 L111.10,163.86 L111.80,164.91 L112.50,165.67 L113.20,166.38 L113.90,167.30 L114.60,167.89 L115.30,169.02 L116.00,168.90 L116.70,169.71 L117.40,170.36 L118.10,171.09 L118.80,171.84 L119.50,172.09 L120.20,172.67 L120.90,173.80 L121.60,174.80 L122.30,175.39 L123.00,175.95 L123.70,176.26 L124.40,176.20 L125.10,175.86 L125.80,175.63 L126.50,174.36 L127.20,173.73 L127.90,172.80 L128.60,172.24 L129.30,171.46 L130.00,171.25 L130.70,170.16 L131.40,169.33 L132.10,167.62 L132.80,167.21 L133.50,166.32 L134.20,165.84 L134.90,164.45 L135.60,164.63 L136.30,163.92 L137.00,162.64 L137.70,162.04 L138.40,161.40 L139.10,161.85 L139.80,162.24 L140.50,162.84 L141.20,162.52 L141.90,162.95 L142.60,162.99 L143.30,163.57 L144.00,163.51 L144.70,163.85 L145.40,163.42 L146.10,163.90 L146.80,164.10 L147.50,165.03 L148.20,165.16 L148.90,165.27 L149.60,165.59 L150.30,166.17 L151.00,166.22 L151.70,166.50 L152.40,167.20 L153.10,168.03 L153.80,167.70 L154.50,167.96 L155.20,168.08 L155.90,168.28 L156.60,168.98 L157.30,169.30 L158.00,169.33 L158.70,169.65 L159.40,169.90 L160.10,170.29 L160.80,170.26 L161.50,170.92 L162.20,171.45 L162.90,171.62 L163.60,172.08 L164.30,171.96 L165.00,172.05 L165.70,172.32 L166.40,171.97 L167.10,172.00 L167.80,172.21 L168.50,172.13 L169.20,172.34 L169.90,171.35 L170.60,172.04 L171.30,171.66 L172.00,171.77 L172.70,171.93 L173.40,172.07 L174.10,172.14 L174.80,171.99 L175.50,172.44 L176.20,172.04 L176.90,172.15 L177.60,172.06 L178.30,171.32 L179.00,171.60 L179.70,170.92 L180.40,170.81 L181.10,169.86 L181.80,169.14 L182.50,168.47 L183.20,167.80 L183.90,166.66 L184.60,166.10 L185.30,165.19 L186.00,164.79 L186.70,163.39 L187.40,162.99 L188.10,161.74 L188.80,160.83 L189.50,160.07 L190.20,159.12 L190.90,159.14 L191.60,159.12 L192.30,158.67 L193.00,158.56 L193.70,158.57 L194.40,158.00 L195.10,158.01 L195.80,158.25 L196.50,158.29 L197.20,159.24 L197.90,158.98 L198.60,159.95 L199.30,160.07 L200.00,160.20 L200.70,159.74 L201.40,159.40 L202.10,159.53 L202.80,159.14 L203.50,159.08 L204.20,158.98 L204.90,158.64 L205.60,158.23 L206.30,157.67 L207.00,157.43 L207.70,156.55 L208.40,156.64 L209.10,156.00 L209.80,156.22 L210.50,155.90 L211.20,154.74 L211.90,154.91 L212.60,154.49 L213.30,153.90 L214.00,153.94 L214.70,153.34 L215.40,153.36 L216.10,154.20 L216.80,154.70 L217.50,155.23 L218.20,155.36 L218.90,156.29 L219.60,156.81 L220.30,156.86 L221.00,157.50 L221.70,158.17 L222.40,158.57 L223.10,159.67 L223.80,159.81 L224.50,160.03 L225.20,160.60 L225.90,160.68 L226.60,161.16 L227.30,160.43 L228.00,160.40 L228.70,160.38 L229.40,160.14 L230.10,160.47 L230.80,159.42 L231.50,159.39 L232.20,158.89 L232.90,158.89 L233.60,158.92 L234.30,160.13 L235.00,160.14 L235.70,160.65 L236.40,160.89 L237.10,161.42 L237.80,162.42 L238.50,163.20 L239.20,163.82 L239.90,164.61 L240.60,164.42 L241.30,163.89 L242.00,163.73 L242.70,163.30 L243.40,163.05 L244.10,163.38 L244.80,163.64 L245.50,163.50 L246.20,163.48 L246.90,163.87 L247.60,164.29 L248.30,163.87 L249.00,164.02 L249.70,164.12 L250.40,164.57 L251.10,163.91 L251.80,164.58 L252.50,165.20 L253.20,165.16 L253.90,166.21 L254.60,166.43 L255.30,166.63 L256.00,167.28 L256.70,167.36 L257.40,168.18 L258.10,169.35 L258.80,169.25 L259.50,170.51 L260.20,170.60 L260.90,171.45 L261.60,171.56 L262.30,171.34 L263.00,172.11 L263.70,172.65 L264.40,172.66 L265.10,172.96 L265.80,173.55 L266.50,173.37 L267.20,173.19 L267.90,173.52 L268.60,173.98 L269.30,173.80 L270.00,174.36 L270.70,174.72 L271.40,174.56 L272.10,174.18 L272.80,173.32 L273.50,172.83 L274.20,172.24 L274.90,171.27 L275.60,170.99 L276.30,170.39 L277.00,170.23 L277.70,169.68 L278.40,169.37 L279.10,168.78 L279.80,168.41 L280.50,168.40 L281.20,167.96 L281.90,167.72 L282.60,167.85 L283.30,167.37 L284.00,167.91 L284.70,167.35 L285.40,166.90 L286.10,167.19 L286.80,167.02 L287.50,166.69 L288.20,167.08 L288.90,166.77 L289.60,166.36 L290.30,167.49 L291.00,167.30 L291.70,167.78 L292.40,167.11 L293.10,166.85 L293.80,167.40 L294.50,166.61 L295.20,166.66 L295.90,166.54 L296.60,165.77 L297.30,165.29 L298.00,164.90 L298.70,164.81 L299.40,165.10 L300.10,166.15 L300.80,166.84 L301.50,167.98 L302.20,168.44 L302.90,169.49 L303.60,171.09 L304.30,172.00 L305.00,173.37 L305.70,174.52 L306.40,175.82 L307.10,176.28 L307.80,177.34 L308.50,177.64 L309.20,178.97 L309.90,180.50 L310.60,180.84 L311.30,181.64 L312.00,182.31 L312.70,183.56 L313.40,184.26 L314.10,184.72 L314.80,185.98 L315.50,186.57 L315.40,186.69" fill="none" stroke="#2a6796" stroke-width="2.0" stroke-linejoin="round"/>
</g>
<line x1="128.3" y1="47.0" x2="128.3" y2="221.2" stroke="#111" stroke-width="1.5" stroke-dasharray="1.5 3.65"/>
<line x1="140.6" y1="47.0" x2="140.6" y2="221.2" stroke="#111" stroke-width="1.5" stroke-dasharray="1.5 3.65"/>
<rect x="53.7" y="46.6" width="261.90" height="174.60" fill="none" stroke="#333" stroke-width="1.3"/>
<line x1="53.7" y1="46.1" x2="53.7" y2="221.7" stroke="#777" stroke-width="1.6"/>
<line x1="51.20" y1="221.20" x2="53.70" y2="221.20" stroke="#333" stroke-width="1"/>
<line x1="313.10" y1="221.20" x2="315.60" y2="221.20" stroke="#333" stroke-width="1"/>
<text x="48.90" y="224.60" font-size="9.8" text-anchor="end" fill="#1a1a1a">0.1</text>
<line x1="51.20" y1="163.00" x2="53.70" y2="163.00" stroke="#333" stroke-width="1"/>
<line x1="313.10" y1="163.00" x2="315.60" y2="163.00" stroke="#333" stroke-width="1"/>
<text x="48.90" y="166.40" font-size="9.8" text-anchor="end" fill="#1a1a1a">0.3</text>
<line x1="51.20" y1="104.80" x2="53.70" y2="104.80" stroke="#333" stroke-width="1"/>
<line x1="313.10" y1="104.80" x2="315.60" y2="104.80" stroke="#333" stroke-width="1"/>
<text x="48.90" y="108.20" font-size="9.8" text-anchor="end" fill="#1a1a1a">0.5</text>
<line x1="51.20" y1="46.60" x2="53.70" y2="46.60" stroke="#333" stroke-width="1"/>
<line x1="313.10" y1="46.60" x2="315.60" y2="46.60" stroke="#333" stroke-width="1"/>
<text x="48.90" y="50.00" font-size="9.8" text-anchor="end" fill="#1a1a1a">0.7</text>
<line x1="90.90" y1="221.20" x2="90.90" y2="223.40" stroke="#333" stroke-width="1"/>
<line x1="90.90" y1="46.60" x2="90.90" y2="48.80" stroke="#333" stroke-width="1"/>
<text x="91.10" y="234.90" font-size="9.8" text-anchor="middle" fill="#1a1a1a">1000</text>
<line x1="128.50" y1="221.20" x2="128.50" y2="223.40" stroke="#333" stroke-width="1"/>
<line x1="128.50" y1="46.60" x2="128.50" y2="48.80" stroke="#333" stroke-width="1"/>
<text x="128.70" y="234.90" font-size="9.8" text-anchor="middle" fill="#1a1a1a">1500</text>
<line x1="166.10" y1="221.20" x2="166.10" y2="223.40" stroke="#333" stroke-width="1"/>
<line x1="166.10" y1="46.60" x2="166.10" y2="48.80" stroke="#333" stroke-width="1"/>
<text x="166.30" y="234.90" font-size="9.8" text-anchor="middle" fill="#1a1a1a">2000</text>
<line x1="203.70" y1="221.20" x2="203.70" y2="223.40" stroke="#333" stroke-width="1"/>
<line x1="203.70" y1="46.60" x2="203.70" y2="48.80" stroke="#333" stroke-width="1"/>
<text x="203.90" y="234.90" font-size="9.8" text-anchor="middle" fill="#1a1a1a">2500</text>
<line x1="241.30" y1="221.20" x2="241.30" y2="223.40" stroke="#333" stroke-width="1"/>
<line x1="241.30" y1="46.60" x2="241.30" y2="48.80" stroke="#333" stroke-width="1"/>
<text x="241.50" y="234.90" font-size="9.8" text-anchor="middle" fill="#1a1a1a">3000</text>
<line x1="278.90" y1="221.20" x2="278.90" y2="223.40" stroke="#333" stroke-width="1"/>
<line x1="278.90" y1="46.60" x2="278.90" y2="48.80" stroke="#333" stroke-width="1"/>
<text x="279.10" y="234.90" font-size="9.8" text-anchor="middle" fill="#1a1a1a">3500</text>
<text x="29.00" y="135.00" font-size="10.4" text-anchor="middle" fill="#1a1a1a" transform="rotate(-90 29.00 135.00)">DNS</text>
<text x="93.80" y="255.80" font-size="10.4" text-anchor="start" fill="#1a1a1a" textLength="182.4" lengthAdjust="spacingAndGlyphs">Time from memory items onset (ms)</text>
<text x="1.00" y="49.00" font-size="14" text-anchor="start" fill="#111">A</text>
<line x1="231.90" y1="63.50" x2="250.70" y2="63.50" stroke="#c61f33" stroke-width="1.9"/>
<line x1="231.90" y1="79.10" x2="250.70" y2="79.10" stroke="#2c6b9c" stroke-width="1.9"/>
<text x="261.80" y="66.90" font-size="9.2" text-anchor="start" fill="#1a1a1a" textLength="40.5" lengthAdjust="spacingAndGlyphs">Retro-cue</text>
<text x="261.80" y="82.60" font-size="9.2" text-anchor="start" fill="#1a1a1a" textLength="47.4" lengthAdjust="spacingAndGlyphs">Neutral-cue</text>
<line x1="179.70" y1="54.20" x2="179.70" y2="144.20" stroke="#333" stroke-width="0.9"/>
<line x1="177.70" y1="54.20" x2="179.70" y2="54.20" stroke="#333" stroke-width="0.8"/>
<text x="176.90" y="56.70" font-size="7.0" text-anchor="end" fill="#222">1.0</text>
<line x1="177.70" y1="84.20" x2="179.70" y2="84.20" stroke="#333" stroke-width="0.8"/>
<text x="176.90" y="86.70" font-size="7.0" text-anchor="end" fill="#222">0.6</text>
<line x1="177.70" y1="114.20" x2="179.70" y2="114.20" stroke="#333" stroke-width="0.8"/>
<text x="176.90" y="116.70" font-size="7.0" text-anchor="end" fill="#222">0.2</text>
<line x1="177.70" y1="144.20" x2="179.70" y2="144.20" stroke="#333" stroke-width="0.8"/>
<text x="176.90" y="146.70" font-size="7.0" text-anchor="end" fill="#222">-0.2</text>
<rect x="188.3" y="103.10" width="16.5" height="26.10" fill="#d32a36" stroke="#5a1a1a" stroke-width="0.5"/>
<rect x="213.6" y="107.07" width="17.2" height="22.12" fill="#2a5f8c" stroke="#1a2a3a" stroke-width="0.5"/>
<line x1="179.70" y1="129.20" x2="240.20" y2="129.20" stroke="#aaa" stroke-width="1.3"/>
<rect x="195.25" y="101.64" width="1.1" height="1.1" fill="#111"/>
<rect x="196.04" y="98.29" width="1.1" height="1.1" fill="#111"/>
<rect x="196.34" y="104.73" width="1.1" height="1.1" fill="#111"/>
<rect x="195.29" y="111.67" width="1.1" height="1.1" fill="#111"/>
<rect x="195.81" y="106.77" width="1.1" height="1.1" fill="#111"/>
<rect x="196.60" y="112.81" width="1.1" height="1.1" fill="#111"/>
<rect x="197.06" y="100.97" width="1.1" height="1.1" fill="#111"/>
<rect x="194.63" y="86.57" width="1.1" height="1.1" fill="#111"/>
<rect x="197.14" y="107.19" width="1.1" height="1.1" fill="#111"/>
<rect x="194.17" y="108.63" width="1.1" height="1.1" fill="#111"/>
<rect x="196.56" y="96.14" width="1.1" height="1.1" fill="#111"/>
<rect x="196.74" y="97.64" width="1.1" height="1.1" fill="#111"/>
<rect x="194.59" y="100.46" width="1.1" height="1.1" fill="#111"/>
<rect x="195.49" y="112.12" width="1.1" height="1.1" fill="#111"/>
<rect x="196.76" y="101.98" width="1.1" height="1.1" fill="#111"/>
<rect x="194.20" y="93.83" width="1.1" height="1.1" fill="#111"/>
<rect x="196.16" y="116.77" width="1.1" height="1.1" fill="#111"/>
<rect x="196.69" y="106.80" width="1.1" height="1.1" fill="#111"/>
<rect x="195.79" y="123.04" width="1.1" height="1.1" fill="#111"/>
<rect x="196.47" y="116.16" width="1.1" height="1.1" fill="#111"/>
<rect x="194.87" y="122.37" width="1.1" height="1.1" fill="#111"/>
<rect x="194.79" y="104.29" width="1.1" height="1.1" fill="#111"/>
<rect x="195.31" y="115.91" width="1.1" height="1.1" fill="#111"/>
<rect x="194.72" y="98.60" width="1.1" height="1.1" fill="#111"/>
<rect x="195.26" y="99.89" width="1.1" height="1.1" fill="#111"/>
<rect x="197.18" y="103.75" width="1.1" height="1.1" fill="#111"/>
<rect x="195.98" y="127.15" width="1.1" height="1.1" fill="#111"/>
<rect x="195.24" y="107.71" width="1.1" height="1.1" fill="#111"/>
<rect x="195.02" y="102.20" width="1.1" height="1.1" fill="#111"/>
<rect x="197.20" y="100.38" width="1.1" height="1.1" fill="#111"/>
<rect x="195.57" y="118.86" width="1.1" height="1.1" fill="#111"/>
<rect x="197.29" y="107.02" width="1.1" height="1.1" fill="#111"/>
<rect x="195.80" y="112.66" width="1.1" height="1.1" fill="#111"/>
<rect x="195.82" y="110.75" width="1.1" height="1.1" fill="#111"/>
<rect x="197.02" y="89.71" width="1.1" height="1.1" fill="#111"/>
<rect x="196.53" y="110.73" width="1.1" height="1.1" fill="#111"/>
<rect x="196.01" y="102.02" width="1.1" height="1.1" fill="#111"/>
<rect x="195.52" y="91.70" width="1.1" height="1.1" fill="#111"/>
<rect x="196.96" y="108.22" width="1.1" height="1.1" fill="#111"/>
<rect x="195.47" y="102.91" width="1.1" height="1.1" fill="#111"/>
<rect x="197.10" y="100.41" width="1.1" height="1.1" fill="#111"/>
<rect x="194.37" y="100.93" width="1.1" height="1.1" fill="#111"/>
<rect x="195.53" y="115.43" width="1.1" height="1.1" fill="#111"/>
<rect x="195.81" y="100.79" width="1.1" height="1.1" fill="#111"/>
<rect x="197.19" y="86.36" width="1.1" height="1.1" fill="#111"/>
<rect x="194.95" y="119.06" width="1.1" height="1.1" fill="#111"/>
<rect x="196.73" y="91.98" width="1.1" height="1.1" fill="#111"/>
<rect x="196.31" y="100.31" width="1.1" height="1.1" fill="#111"/>
<rect x="196.44" y="108.87" width="1.1" height="1.1" fill="#111"/>
<rect x="196.16" y="79.15" width="1.1" height="1.1" fill="#111"/>
<rect x="197.26" y="93.07" width="1.1" height="1.1" fill="#111"/>
<rect x="195.21" y="115.14" width="1.1" height="1.1" fill="#111"/>
<rect x="195.42" y="100.81" width="1.1" height="1.1" fill="#111"/>
<rect x="194.80" y="95.16" width="1.1" height="1.1" fill="#111"/>
<rect x="194.31" y="62.65" width="1.1" height="1.1" fill="#111"/>
<rect x="194.83" y="139.90" width="1.1" height="1.1" fill="#111"/>
<rect x="197.08" y="77.65" width="1.1" height="1.1" fill="#111"/>
<rect x="196.84" y="82.15" width="1.1" height="1.1" fill="#111"/>
<rect x="194.51" y="124.90" width="1.1" height="1.1" fill="#111"/>
<rect x="221.78" y="108.56" width="1.1" height="1.1" fill="#111"/>
<rect x="221.38" y="97.44" width="1.1" height="1.1" fill="#111"/>
<rect x="221.75" y="107.00" width="1.1" height="1.1" fill="#111"/>
<rect x="221.96" y="97.64" width="1.1" height="1.1" fill="#111"/>
<rect x="220.83" y="87.81" width="1.1" height="1.1" fill="#111"/>
<rect x="222.93" y="114.76" width="1.1" height="1.1" fill="#111"/>
<rect x="221.34" y="103.56" width="1.1" height="1.1" fill="#111"/>
<rect x="221.86" y="112.06" width="1.1" height="1.1" fill="#111"/>
<rect x="221.88" y="104.53" width="1.1" height="1.1" fill="#111"/>
<rect x="220.44" y="121.29" width="1.1" height="1.1" fill="#111"/>
<rect x="220.05" y="113.54" width="1.1" height="1.1" fill="#111"/>
<rect x="221.17" y="108.65" width="1.1" height="1.1" fill="#111"/>
<rect x="222.29" y="94.69" width="1.1" height="1.1" fill="#111"/>
<rect x="222.46" y="91.55" width="1.1" height="1.1" fill="#111"/>
<rect x="222.19" y="123.02" width="1.1" height="1.1" fill="#111"/>
<rect x="220.21" y="116.28" width="1.1" height="1.1" fill="#111"/>
<rect x="222.77" y="97.90" width="1.1" height="1.1" fill="#111"/>
<rect x="222.42" y="130.15" width="1.1" height="1.1" fill="#111"/>
<rect x="222.66" y="112.06" width="1.1" height="1.1" fill="#111"/>
<rect x="221.52" y="107.39" width="1.1" height="1.1" fill="#111"/>
<rect x="222.78" y="90.12" width="1.1" height="1.1" fill="#111"/>
<rect x="220.00" y="97.36" width="1.1" height="1.1" fill="#111"/>
<rect x="219.95" y="110.32" width="1.1" height="1.1" fill="#111"/>
<rect x="219.91" y="110.85" width="1.1" height="1.1" fill="#111"/>
<rect x="220.66" y="109.34" width="1.1" height="1.1" fill="#111"/>
<rect x="220.65" y="86.73" width="1.1" height="1.1" fill="#111"/>
<rect x="220.45" y="111.61" width="1.1" height="1.1" fill="#111"/>
<rect x="221.66" y="110.02" width="1.1" height="1.1" fill="#111"/>
<rect x="219.97" y="101.65" width="1.1" height="1.1" fill="#111"/>
<rect x="221.74" y="107.69" width="1.1" height="1.1" fill="#111"/>
<rect x="220.38" y="108.67" width="1.1" height="1.1" fill="#111"/>
<rect x="222.02" y="120.35" width="1.1" height="1.1" fill="#111"/>
<rect x="219.92" y="106.30" width="1.1" height="1.1" fill="#111"/>
<rect x="220.84" y="111.81" width="1.1" height="1.1" fill="#111"/>
<rect x="222.85" y="91.28" width="1.1" height="1.1" fill="#111"/>
<rect x="221.57" y="97.82" width="1.1" height="1.1" fill="#111"/>
<rect x="222.45" y="106.46" width="1.1" height="1.1" fill="#111"/>
<rect x="221.96" y="97.63" width="1.1" height="1.1" fill="#111"/>
<rect x="221.80" y="110.48" width="1.1" height="1.1" fill="#111"/>
<rect x="220.46" y="92.74" width="1.1" height="1.1" fill="#111"/>
<rect x="221.69" y="106.22" width="1.1" height="1.1" fill="#111"/>
<rect x="219.98" y="98.71" width="1.1" height="1.1" fill="#111"/>
<rect x="222.42" y="122.61" width="1.1" height="1.1" fill="#111"/>
<rect x="222.92" y="101.73" width="1.1" height="1.1" fill="#111"/>
<rect x="222.58" y="127.67" width="1.1" height="1.1" fill="#111"/>
<rect x="220.01" y="130.15" width="1.1" height="1.1" fill="#111"/>
<rect x="220.93" y="110.03" width="1.1" height="1.1" fill="#111"/>
<rect x="220.87" y="117.62" width="1.1" height="1.1" fill="#111"/>
<rect x="220.21" y="104.06" width="1.1" height="1.1" fill="#111"/>
<rect x="221.86" y="77.65" width="1.1" height="1.1" fill="#111"/>
<rect x="222.40" y="77.65" width="1.1" height="1.1" fill="#111"/>
<rect x="220.85" y="139.90" width="1.1" height="1.1" fill="#111"/>
<rect x="222.61" y="137.65" width="1.1" height="1.1" fill="#111"/>
<rect x="222.40" y="142.15" width="1.1" height="1.1" fill="#111"/>
<rect x="220.26" y="134.65" width="1.1" height="1.1" fill="#111"/>
<rect x="222.30" y="83.65" width="1.1" height="1.1" fill="#111"/>
<rect x="222.67" y="87.40" width="1.1" height="1.1" fill="#111"/>
<line x1="196.30" y1="99.72" x2="196.30" y2="106.47" stroke="#111" stroke-width="0.9"/>
<line x1="193.10" y1="99.72" x2="199.50" y2="99.72" stroke="#111" stroke-width="0.9"/>
<line x1="193.10" y1="106.47" x2="199.50" y2="106.47" stroke="#111" stroke-width="0.9"/>
<line x1="222.00" y1="103.70" x2="222.00" y2="110.45" stroke="#111" stroke-width="0.9"/>
<line x1="218.80" y1="103.70" x2="225.20" y2="103.70" stroke="#111" stroke-width="0.9"/>
<line x1="218.80" y1="110.45" x2="225.20" y2="110.45" stroke="#111" stroke-width="0.9"/>
<line x1="196.10" y1="61.30" x2="222.10" y2="61.30" stroke="#1a1a1a" stroke-width="1.0"/>
<text x="208.90" y="60.60" font-size="11.5" text-anchor="middle" fill="#111">*</text>
<text x="153.30" y="99.15" font-size="7.4" text-anchor="middle" fill="#222" textLength="14.9" lengthAdjust="spacingAndGlyphs" transform="rotate(-90 153.30 99.15)">DNS</text>
<text x="160.80" y="98.70" font-size="7.4" text-anchor="middle" fill="#222" textLength="54.8" lengthAdjust="spacingAndGlyphs" transform="rotate(-90 160.80 98.70)">during cue stage</text>
</g>
<rect x="71.90" y="321.70" width="16.30" height="3.30" fill="#c9d5eb" stroke="#aab5cc" stroke-width="0.6"/>
<rect x="104.50" y="309.20" width="16.30" height="15.80" fill="#c9d5eb" stroke="#aab5cc" stroke-width="0.6"/>
<rect x="120.80" y="321.50" width="16.30" height="3.50" fill="#c9d5eb" stroke="#aab5cc" stroke-width="0.6"/>
<rect x="137.10" y="305.20" width="16.30" height="19.80" fill="#c9d5eb" stroke="#aab5cc" stroke-width="0.6"/>
<rect x="153.40" y="289.20" width="16.30" height="35.80" fill="#c9d5eb" stroke="#aab5cc" stroke-width="0.6"/>
<rect x="169.70" y="277.50" width="16.30" height="47.50" fill="#c9d5eb" stroke="#aab5cc" stroke-width="0.6"/>
<rect x="186.00" y="273.00" width="16.30" height="52.00" fill="#c9d5eb" stroke="#aab5cc" stroke-width="0.6"/>
<rect x="202.30" y="301.20" width="16.30" height="23.80" fill="#c9d5eb" stroke="#aab5cc" stroke-width="0.6"/>
<rect x="218.60" y="313.20" width="16.30" height="11.80" fill="#c9d5eb" stroke="#aab5cc" stroke-width="0.6"/>
<rect x="234.90" y="321.40" width="16.30" height="3.60" fill="#c9d5eb" stroke="#aab5cc" stroke-width="0.6"/>
<rect x="251.20" y="321.40" width="16.30" height="3.60" fill="#c9d5eb" stroke="#aab5cc" stroke-width="0.6"/>
<rect x="292.00" y="337.10" width="4.40" height="16.70" fill="#c9d5eb" stroke="#aab5cc" stroke-width="0.6"/>
<rect x="292.00" y="353.80" width="31.40" height="16.70" fill="#c9d5eb" stroke="#aab5cc" stroke-width="0.6"/>
<rect x="292.00" y="370.50" width="40.60" height="16.70" fill="#c9d5eb" stroke="#aab5cc" stroke-width="0.6"/>
<rect x="292.00" y="387.20" width="67.70" height="16.80" fill="#c9d5eb" stroke="#aab5cc" stroke-width="0.6"/>
<rect x="292.00" y="404.00" width="36.00" height="17.00" fill="#c9d5eb" stroke="#aab5cc" stroke-width="0.6"/>
<rect x="292.00" y="421.00" width="36.00" height="17.00" fill="#c9d5eb" stroke="#aab5cc" stroke-width="0.6"/>
<rect x="292.00" y="438.00" width="17.80" height="17.00" fill="#c9d5eb" stroke="#aab5cc" stroke-width="0.6"/>
<rect x="292.00" y="455.00" width="13.50" height="17.00" fill="#c9d5eb" stroke="#aab5cc" stroke-width="0.6"/>
<rect x="292.00" y="472.00" width="4.60" height="16.90" fill="#c9d5eb" stroke="#aab5cc" stroke-width="0.6"/>
<path d="M55.60,324.92 L56.79,324.91 L57.98,324.90 L59.16,324.89 L60.35,324.87 L61.54,324.86 L62.73,324.84 L63.92,324.82 L65.10,324.80 L66.29,324.78 L67.48,324.75 L68.67,324.72 L69.86,324.69 L71.04,324.65 L72.23,324.62 L73.42,324.57 L74.61,324.53 L75.79,324.48 L76.98,324.42 L78.17,324.36 L79.36,324.29 L80.55,324.22 L81.73,324.14 L82.92,324.05 L84.11,323.96 L85.30,323.86 L86.49,323.75 L87.67,323.63 L88.86,323.50 L90.05,323.37 L91.24,323.22 L92.43,323.06 L93.61,322.89 L94.80,322.70 L95.99,322.51 L97.18,322.29 L98.37,322.07 L99.55,321.83 L100.74,321.57 L101.93,321.30 L103.12,321.01 L104.31,320.71 L105.49,320.38 L106.68,320.04 L107.87,319.68 L109.06,319.30 L110.25,318.90 L111.43,318.48 L112.62,318.03 L113.81,317.57 L115.00,317.08 L116.18,316.58 L117.37,316.05 L118.56,315.50 L119.75,314.93 L120.94,314.33 L122.12,313.71 L123.31,313.08 L124.50,312.42 L125.69,311.74 L126.88,311.04 L128.06,310.32 L129.25,309.58 L130.44,308.82 L131.63,308.05 L132.82,307.26 L134.00,306.46 L135.19,305.64 L136.38,304.81 L137.57,303.97 L138.76,303.13 L139.94,302.27 L141.13,301.41 L142.32,300.54 L143.51,299.68 L144.70,298.81 L145.88,297.95 L147.07,297.09 L148.26,296.24 L149.45,295.39 L150.64,294.56 L151.82,293.74 L153.01,292.94 L154.20,292.16 L155.39,291.40 L156.57,290.66 L157.76,289.94 L158.95,289.25 L160.14,288.60 L161.33,287.97 L162.51,287.38 L163.70,286.82 L164.89,286.31 L166.08,285.83 L167.27,285.39 L168.45,285.00 L169.64,284.64 L170.83,284.34 L172.02,284.08 L173.21,283.87 L174.39,283.70 L175.58,283.59 L176.77,283.52 L177.96,283.50 L179.15,283.53 L180.33,283.60 L181.52,283.72 L182.71,283.87 L183.90,284.08 L185.09,284.32 L186.27,284.60 L187.46,284.93 L188.65,285.29 L189.84,285.70 L191.03,286.14 L192.21,286.61 L193.40,287.12 L194.59,287.67 L195.78,288.24 L196.96,288.84 L198.15,289.48 L199.34,290.13 L200.53,290.81 L201.72,291.52 L202.90,292.24 L204.09,292.98 L205.28,293.74 L206.47,294.51 L207.66,295.30 L208.84,296.10 L210.03,296.90 L211.22,297.71 L212.41,298.53 L213.60,299.34 L214.78,300.16 L215.97,300.98 L217.16,301.80 L218.35,302.61 L219.54,303.42 L220.72,304.22 L221.91,305.01 L223.10,305.79 L224.29,306.56 L225.48,307.32 L226.66,308.06 L227.85,308.79 L229.04,309.51 L230.23,310.21 L231.42,310.89 L232.60,311.56 L233.79,312.20 L234.98,312.83 L236.17,313.44 L237.35,314.04 L238.54,314.61 L239.73,315.16 L240.92,315.70 L242.11,316.21 L243.29,316.70 L244.48,317.18 L245.67,317.63 L246.86,318.07 L248.05,318.49 L249.23,318.89 L250.42,319.27 L251.61,319.63 L252.80,319.97 L253.99,320.30 L255.17,320.61 L256.36,320.91 L257.55,321.19 L258.74,321.45 L259.93,321.70 L261.11,321.93 L262.30,322.15 L263.49,322.36 L264.68,322.56 L265.87,322.74 L267.05,322.91 L268.24,323.07 L269.43,323.22 L270.62,323.36 L271.81,323.49 L272.99,323.62 L274.18,323.73 L275.37,323.83 L276.56,323.93 L277.74,324.02 L278.93,324.11 L280.12,324.18 L281.31,324.26 L282.50,324.32 L283.68,324.38 L284.87,324.44 L286.06,324.49 L287.25,324.54 L288.44,324.58 L289.62,324.62 L290.81,324.66 L292.00,324.69" fill="none" stroke="#4a6fbf" stroke-width="1.1"/>
<path d="M293.69,325.00 L293.83,325.91 L293.99,326.82 L294.16,327.72 L294.34,328.63 L294.53,329.54 L294.74,330.45 L294.96,331.35 L295.19,332.26 L295.44,333.17 L295.71,334.08 L295.99,334.98 L296.29,335.89 L296.61,336.80 L296.94,337.71 L297.30,338.61 L297.68,339.52 L298.07,340.43 L298.49,341.34 L298.93,342.24 L299.39,343.15 L299.88,344.06 L300.38,344.97 L300.92,345.87 L301.47,346.78 L302.06,347.69 L302.66,348.60 L303.30,349.50 L303.96,350.41 L304.64,351.32 L305.35,352.23 L306.09,353.13 L306.85,354.04 L307.64,354.95 L308.46,355.86 L309.30,356.76 L310.17,357.67 L311.06,358.58 L311.97,359.49 L312.91,360.39 L313.87,361.30 L314.86,362.21 L315.86,363.12 L316.88,364.02 L317.93,364.93 L318.99,365.84 L320.06,366.75 L321.15,367.65 L322.25,368.56 L323.37,369.47 L324.49,370.38 L325.62,371.28 L326.75,372.19 L327.89,373.10 L329.03,374.01 L330.17,374.91 L331.30,375.82 L332.43,376.73 L333.55,377.64 L334.66,378.54 L335.75,379.45 L336.83,380.36 L337.89,381.27 L338.93,382.17 L339.95,383.08 L340.94,383.99 L341.91,384.90 L342.84,385.81 L343.74,386.71 L344.60,387.62 L345.42,388.53 L346.21,389.44 L346.95,390.34 L347.65,391.25 L348.30,392.16 L348.91,393.07 L349.46,393.97 L349.96,394.88 L350.41,395.79 L350.81,396.70 L351.15,397.60 L351.43,398.51 L351.66,399.42 L351.83,400.33 L351.94,401.23 L352.00,402.14 L351.99,403.05 L351.92,403.96 L351.78,404.86 L351.58,405.77 L351.31,406.68 L350.98,407.59 L350.59,408.49 L350.14,409.40 L349.63,410.31 L349.06,411.22 L348.44,412.12 L347.76,413.03 L347.03,413.94 L346.25,414.85 L345.42,415.75 L344.55,416.66 L343.64,417.57 L342.68,418.48 L341.69,419.38 L340.67,420.29 L339.62,421.20 L338.53,422.11 L337.43,423.01 L336.30,423.92 L335.15,424.83 L333.99,425.74 L332.81,426.64 L331.62,427.55 L330.43,428.46 L329.23,429.37 L328.03,430.27 L326.83,431.18 L325.63,432.09 L324.44,433.00 L323.26,433.90 L322.09,434.81 L320.93,435.72 L319.78,436.63 L318.65,437.53 L317.54,438.44 L316.45,439.35 L315.38,440.26 L314.33,441.16 L313.31,442.07 L312.31,442.98 L311.33,443.89 L310.39,444.79 L309.47,445.70 L308.58,446.61 L307.71,447.52 L306.88,448.43 L306.07,449.33 L305.30,450.24 L304.55,451.15 L303.83,452.06 L303.14,452.96 L302.48,453.87 L301.85,454.78 L301.25,455.69 L300.67,456.59 L300.12,457.50 L299.60,458.41 L299.10,459.32 L298.63,460.22 L298.18,461.13 L297.76,462.04 L297.36,462.95 L296.98,463.85 L296.62,464.76 L296.29,465.67 L295.97,466.58 L295.68,467.48 L295.40,468.39 L295.14,469.30 L294.90,470.21 L294.67,471.11 L294.46,472.02 L294.26,472.93 L294.07,473.84 L293.90,474.74 L293.74,475.65 L293.60,476.56 L293.46,477.47 L293.33,478.37 L293.22,479.28 L293.11,480.19 L293.01,481.10 L292.92,482.00 L292.83,482.91 L292.76,483.82 L292.69,484.73 L292.62,485.63 L292.56,486.54 L292.51,487.45 L292.46,488.36 L292.41,489.26 L292.37,490.17 L292.34,491.08 L292.30,491.99 L292.27,492.89 L292.24,493.80 L292.22,494.71 L292.19,495.62 L292.17,496.52 L292.16,497.43 L292.14,498.34 L292.12,499.25 L292.11,500.15 L292.10,501.06 L292.09,501.97 L292.08,502.88 L292.07,503.78 L292.06,504.69 L292.05,505.60" fill="none" stroke="#4a6fbf" stroke-width="1.1"/>
<rect x="55.6" y="325.0" width="236.40" height="180.60" fill="#fff" stroke="none"/>
<circle cx="107.60" cy="389.30" r="5.7" fill="rgb(76,114,186)" fill-opacity="0.5"/>
<circle cx="127.90" cy="397.90" r="5.7" fill="rgb(76,114,186)" fill-opacity="0.5"/>
<circle cx="139.10" cy="391.20" r="5.7" fill="rgb(76,114,186)" fill-opacity="0.5"/>
<circle cx="141.00" cy="378.10" r="5.7" fill="rgb(76,114,186)" fill-opacity="0.5"/>
<circle cx="156.30" cy="366.70" r="5.7" fill="rgb(76,114,186)" fill-opacity="0.5"/>
<circle cx="161.30" cy="376.70" r="5.7" fill="rgb(76,114,186)" fill-opacity="0.5"/>
<circle cx="159.40" cy="384.20" r="5.7" fill="rgb(76,114,186)" fill-opacity="0.5"/>
<circle cx="162.20" cy="396.50" r="5.7" fill="rgb(76,114,186)" fill-opacity="0.5"/>
<circle cx="170.60" cy="395.40" r="5.7" fill="rgb(76,114,186)" fill-opacity="0.5"/>
<circle cx="193.90" cy="350.50" r="5.7" fill="rgb(76,114,186)" fill-opacity="0.5"/>
<circle cx="182.80" cy="359.80" r="5.7" fill="rgb(76,114,186)" fill-opacity="0.5"/>
<circle cx="184.80" cy="368.10" r="5.7" fill="rgb(76,114,186)" fill-opacity="0.5"/>
<circle cx="180.70" cy="378.90" r="5.7" fill="rgb(76,114,186)" fill-opacity="0.5"/>
<circle cx="196.00" cy="369.80" r="5.7" fill="rgb(76,114,186)" fill-opacity="0.5"/>
<circle cx="199.10" cy="370.20" r="5.7" fill="rgb(76,114,186)" fill-opacity="0.5"/>
<circle cx="203.90" cy="369.80" r="5.7" fill="rgb(76,114,186)" fill-opacity="0.5"/>
<circle cx="210.50" cy="369.00" r="5.7" fill="rgb(76,114,186)" fill-opacity="0.5"/>
<circle cx="211.40" cy="376.40" r="5.7" fill="rgb(76,114,186)" fill-opacity="0.5"/>
<circle cx="210.10" cy="383.50" r="5.7" fill="rgb(76,114,186)" fill-opacity="0.5"/>
<circle cx="226.70" cy="371.00" r="5.7" fill="rgb(76,114,186)" fill-opacity="0.5"/>
<circle cx="266.50" cy="375.20" r="5.7" fill="rgb(76,114,186)" fill-opacity="0.5"/>
<circle cx="234.00" cy="385.10" r="5.7" fill="rgb(76,114,186)" fill-opacity="0.5"/>
<circle cx="244.90" cy="396.50" r="5.7" fill="rgb(76,114,186)" fill-opacity="0.5"/>
<circle cx="219.40" cy="393.00" r="5.7" fill="rgb(76,114,186)" fill-opacity="0.5"/>
<circle cx="174.90" cy="397.10" r="5.7" fill="rgb(76,114,186)" fill-opacity="0.5"/>
<circle cx="181.10" cy="393.00" r="5.7" fill="rgb(76,114,186)" fill-opacity="0.5"/>
<circle cx="185.20" cy="391.30" r="5.7" fill="rgb(76,114,186)" fill-opacity="0.5"/>
<circle cx="191.90" cy="386.80" r="5.7" fill="rgb(76,114,186)" fill-opacity="0.5"/>
<circle cx="197.30" cy="392.40" r="5.7" fill="rgb(76,114,186)" fill-opacity="0.5"/>
<circle cx="192.50" cy="398.60" r="5.7" fill="rgb(76,114,186)" fill-opacity="0.5"/>
<circle cx="198.10" cy="401.30" r="5.7" fill="rgb(76,114,186)" fill-opacity="0.5"/>
<circle cx="202.90" cy="399.60" r="5.7" fill="rgb(76,114,186)" fill-opacity="0.5"/>
<circle cx="173.80" cy="404.80" r="5.7" fill="rgb(76,114,186)" fill-opacity="0.5"/>
<circle cx="166.60" cy="410.00" r="5.7" fill="rgb(76,114,186)" fill-opacity="0.5"/>
<circle cx="184.80" cy="409.00" r="5.7" fill="rgb(76,114,186)" fill-opacity="0.5"/>
<circle cx="153.70" cy="412.00" r="5.7" fill="rgb(76,114,186)" fill-opacity="0.5"/>
<circle cx="192.50" cy="411.00" r="5.7" fill="rgb(76,114,186)" fill-opacity="0.5"/>
<circle cx="78.00" cy="423.50" r="5.7" fill="rgb(76,114,186)" fill-opacity="0.5"/>
<circle cx="116.60" cy="444.30" r="5.7" fill="rgb(76,114,186)" fill-opacity="0.5"/>
<circle cx="113.50" cy="459.30" r="5.7" fill="rgb(76,114,186)" fill-opacity="0.5"/>
<circle cx="114.60" cy="481.30" r="5.7" fill="rgb(76,114,186)" fill-opacity="0.5"/>
<circle cx="153.40" cy="443.30" r="5.7" fill="rgb(76,114,186)" fill-opacity="0.5"/>
<circle cx="165.70" cy="457.80" r="5.7" fill="rgb(76,114,186)" fill-opacity="0.5"/>
<circle cx="182.00" cy="458.90" r="5.7" fill="rgb(76,114,186)" fill-opacity="0.5"/>
<circle cx="156.50" cy="430.20" r="5.7" fill="rgb(76,114,186)" fill-opacity="0.5"/>
<circle cx="147.50" cy="426.60" r="5.7" fill="rgb(76,114,186)" fill-opacity="0.5"/>
<circle cx="145.80" cy="422.10" r="5.7" fill="rgb(76,114,186)" fill-opacity="0.5"/>
<circle cx="142.80" cy="418.80" r="5.7" fill="rgb(76,114,186)" fill-opacity="0.5"/>
<circle cx="177.50" cy="424.10" r="5.7" fill="rgb(76,114,186)" fill-opacity="0.5"/>
<circle cx="177.90" cy="429.60" r="5.7" fill="rgb(76,114,186)" fill-opacity="0.5"/>
<circle cx="187.70" cy="414.70" r="5.7" fill="rgb(76,114,186)" fill-opacity="0.5"/>
<circle cx="196.50" cy="418.40" r="5.7" fill="rgb(76,114,186)" fill-opacity="0.5"/>
<circle cx="194.50" cy="432.70" r="5.7" fill="rgb(76,114,186)" fill-opacity="0.5"/>
<circle cx="197.30" cy="438.80" r="5.7" fill="rgb(76,114,186)" fill-opacity="0.5"/>
<circle cx="199.50" cy="442.50" r="5.7" fill="rgb(76,114,186)" fill-opacity="0.5"/>
<circle cx="212.90" cy="424.50" r="5.7" fill="rgb(76,114,186)" fill-opacity="0.5"/>
<line x1="78.00" y1="436.40" x2="266.50" y2="375.20" stroke="#4a6fbf" stroke-width="1.2"/>
<rect x="55.6" y="325.0" width="236.40" height="180.60" fill="none" stroke="#333" stroke-width="1.1"/>
<line x1="53.00" y1="353.60" x2="55.60" y2="353.60" stroke="#333" stroke-width="0.9"/>
<text x="48.80" y="357.00" font-size="9.6" text-anchor="end" fill="#1a1a1a">0.6</text>
<line x1="53.00" y1="404.25" x2="55.60" y2="404.25" stroke="#333" stroke-width="0.9"/>
<text x="48.80" y="407.65" font-size="9.6" text-anchor="end" fill="#1a1a1a">0.3</text>
<line x1="53.00" y1="454.90" x2="55.60" y2="454.90" stroke="#333" stroke-width="0.9"/>
<text x="48.80" y="458.30" font-size="9.6" text-anchor="end" fill="#1a1a1a">0.0</text>
<line x1="53.00" y1="505.60" x2="55.60" y2="505.60" stroke="#333" stroke-width="0.9"/>
<text x="48.80" y="509.00" font-size="9.6" text-anchor="end" fill="#1a1a1a">−0.3</text>
<line x1="88.10" y1="505.60" x2="88.10" y2="507.90" stroke="#333" stroke-width="0.9"/>
<text x="88.10" y="519.00" font-size="9.6" text-anchor="middle" fill="#1a1a1a">0.7</text>
<line x1="169.70" y1="505.60" x2="169.70" y2="507.90" stroke="#333" stroke-width="0.9"/>
<text x="169.70" y="519.00" font-size="9.6" text-anchor="middle" fill="#1a1a1a">0.8</text>
<line x1="251.20" y1="505.60" x2="251.20" y2="507.90" stroke="#333" stroke-width="0.9"/>
<text x="251.20" y="519.00" font-size="9.6" text-anchor="middle" fill="#1a1a1a">0.9</text>
<text x="173.50" y="535.50" font-size="10.4" text-anchor="middle" fill="#1a1a1a" textLength="94" lengthAdjust="spacingAndGlyphs">Behavioral accuracy</text>
<text x="26.60" y="415.35" font-size="10.4" text-anchor="middle" fill="#1a1a1a" textLength="126.5" lengthAdjust="spacingAndGlyphs" transform="rotate(-90 26.60 415.35)">DNS during retro-cue stage</text>
<text x="1.00" y="281.30" font-size="14" text-anchor="start" fill="#111">C</text>
<text x="238.00" y="483.20" font-size="10.1" fill="#1a1a1a"><tspan font-style="italic">r</tspan> = 0.399</text>
<text x="238.00" y="496.20" font-size="10.1" fill="#1a1a1a"><tspan font-style="italic">p</tspan> &lt; 0.005</text>
<rect x="418.50" y="324.30" width="16.00" height="4.00" fill="#c9d5eb" stroke="#aab5cc" stroke-width="0.6"/>
<rect x="450.50" y="312.40" width="16.00" height="15.90" fill="#c9d5eb" stroke="#aab5cc" stroke-width="0.6"/>
<rect x="466.50" y="324.30" width="16.00" height="4.00" fill="#c9d5eb" stroke="#aab5cc" stroke-width="0.6"/>
<rect x="482.50" y="308.20" width="16.00" height="20.10" fill="#c9d5eb" stroke="#aab5cc" stroke-width="0.6"/>
<rect x="498.50" y="292.80" width="16.00" height="35.50" fill="#c9d5eb" stroke="#aab5cc" stroke-width="0.6"/>
<rect x="514.50" y="281.30" width="16.00" height="47.00" fill="#c9d5eb" stroke="#aab5cc" stroke-width="0.6"/>
<rect x="530.50" y="277.30" width="16.00" height="51.00" fill="#c9d5eb" stroke="#aab5cc" stroke-width="0.6"/>
<rect x="546.50" y="304.80" width="16.00" height="23.50" fill="#c9d5eb" stroke="#aab5cc" stroke-width="0.6"/>
<rect x="562.50" y="316.50" width="16.00" height="11.80" fill="#c9d5eb" stroke="#aab5cc" stroke-width="0.6"/>
<rect x="578.50" y="324.70" width="16.00" height="3.60" fill="#c9d5eb" stroke="#aab5cc" stroke-width="0.6"/>
<rect x="594.50" y="324.70" width="16.00" height="3.60" fill="#c9d5eb" stroke="#aab5cc" stroke-width="0.6"/>
<rect x="634.80" y="344.20" width="17.80" height="16.30" fill="#c9d5eb" stroke="#aab5cc" stroke-width="0.6"/>
<rect x="634.80" y="360.50" width="30.80" height="16.20" fill="#c9d5eb" stroke="#aab5cc" stroke-width="0.6"/>
<rect x="634.80" y="376.70" width="48.40" height="16.70" fill="#c9d5eb" stroke="#aab5cc" stroke-width="0.6"/>
<rect x="634.80" y="393.40" width="44.00" height="16.10" fill="#c9d5eb" stroke="#aab5cc" stroke-width="0.6"/>
<rect x="634.80" y="409.50" width="35.00" height="16.00" fill="#c9d5eb" stroke="#aab5cc" stroke-width="0.6"/>
<rect x="634.80" y="425.50" width="40.00" height="16.30" fill="#c9d5eb" stroke="#aab5cc" stroke-width="0.6"/>
<rect x="634.80" y="441.80" width="12.70" height="16.00" fill="#c9d5eb" stroke="#aab5cc" stroke-width="0.6"/>
<rect x="634.80" y="457.80" width="8.70" height="15.70" fill="#c9d5eb" stroke="#aab5cc" stroke-width="0.6"/>
<rect x="634.80" y="473.50" width="9.00" height="16.30" fill="#c9d5eb" stroke="#aab5cc" stroke-width="0.6"/>
<path d="M402.50,328.22 L403.67,328.21 L404.83,328.20 L406.00,328.18 L407.17,328.17 L408.34,328.15 L409.50,328.13 L410.67,328.11 L411.84,328.09 L413.01,328.07 L414.17,328.04 L415.34,328.01 L416.51,327.98 L417.68,327.94 L418.84,327.90 L420.01,327.86 L421.18,327.81 L422.34,327.76 L423.51,327.70 L424.68,327.64 L425.85,327.57 L427.01,327.50 L428.18,327.42 L429.35,327.33 L430.52,327.24 L431.68,327.14 L432.85,327.02 L434.02,326.91 L435.19,326.78 L436.35,326.64 L437.52,326.49 L438.69,326.33 L439.85,326.15 L441.02,325.97 L442.19,325.77 L443.36,325.56 L444.52,325.33 L445.69,325.09 L446.86,324.84 L448.03,324.57 L449.19,324.28 L450.36,323.97 L451.53,323.65 L452.70,323.31 L453.86,322.95 L455.03,322.57 L456.20,322.17 L457.36,321.75 L458.53,321.31 L459.70,320.85 L460.87,320.36 L462.03,319.86 L463.20,319.34 L464.37,318.79 L465.54,318.22 L466.70,317.64 L467.87,317.03 L469.04,316.40 L470.21,315.75 L471.37,315.08 L472.54,314.39 L473.71,313.68 L474.87,312.95 L476.04,312.21 L477.21,311.45 L478.38,310.67 L479.54,309.89 L480.71,309.09 L481.88,308.27 L483.05,307.45 L484.21,306.62 L485.38,305.78 L486.55,304.94 L487.72,304.10 L488.88,303.25 L490.05,302.41 L491.22,301.57 L492.38,300.73 L493.55,299.90 L494.72,299.08 L495.89,298.28 L497.05,297.48 L498.22,296.70 L499.39,295.95 L500.56,295.21 L501.72,294.49 L502.89,293.80 L504.06,293.14 L505.23,292.51 L506.39,291.91 L507.56,291.34 L508.73,290.81 L509.89,290.31 L511.06,289.86 L512.23,289.44 L513.40,289.07 L514.56,288.74 L515.73,288.45 L516.90,288.21 L518.07,288.01 L519.23,287.86 L520.40,287.76 L521.57,287.71 L522.74,287.70 L523.90,287.74 L525.07,287.82 L526.24,287.94 L527.41,288.11 L528.57,288.31 L529.74,288.56 L530.91,288.84 L532.07,289.17 L533.24,289.53 L534.41,289.93 L535.58,290.37 L536.74,290.84 L537.91,291.34 L539.08,291.88 L540.25,292.44 L541.41,293.04 L542.58,293.66 L543.75,294.30 L544.92,294.97 L546.08,295.66 L547.25,296.37 L548.42,297.09 L549.58,297.84 L550.75,298.59 L551.92,299.36 L553.09,300.13 L554.25,300.92 L555.42,301.71 L556.59,302.50 L557.76,303.30 L558.92,304.10 L560.09,304.90 L561.26,305.69 L562.43,306.48 L563.59,307.27 L564.76,308.05 L565.93,308.82 L567.09,309.58 L568.26,310.33 L569.43,311.07 L570.60,311.79 L571.76,312.50 L572.93,313.20 L574.10,313.88 L575.27,314.54 L576.43,315.19 L577.60,315.82 L578.77,316.44 L579.94,317.03 L581.10,317.61 L582.27,318.16 L583.44,318.70 L584.60,319.22 L585.77,319.72 L586.94,320.20 L588.11,320.66 L589.27,321.11 L590.44,321.53 L591.61,321.94 L592.78,322.33 L593.94,322.70 L595.11,323.05 L596.28,323.38 L597.45,323.70 L598.61,324.01 L599.78,324.29 L600.95,324.57 L602.11,324.82 L603.28,325.07 L604.45,325.30 L605.62,325.51 L606.78,325.71 L607.95,325.90 L609.12,326.08 L610.29,326.25 L611.45,326.41 L612.62,326.56 L613.79,326.69 L614.96,326.82 L616.12,326.94 L617.29,327.05 L618.46,327.15 L619.62,327.25 L620.79,327.34 L621.96,327.42 L623.13,327.50 L624.29,327.57 L625.46,327.63 L626.63,327.69 L627.80,327.75 L628.96,327.80 L630.13,327.84 L631.30,327.89 L632.47,327.92 L633.63,327.96 L634.80,327.99" fill="none" stroke="#4a6fbf" stroke-width="1.1"/>
<path d="M637.51,328.30 L637.69,329.19 L637.89,330.09 L638.10,330.98 L638.32,331.88 L638.56,332.77 L638.80,333.66 L639.06,334.56 L639.33,335.45 L639.61,336.35 L639.91,337.24 L640.22,338.13 L640.55,339.03 L640.89,339.92 L641.24,340.82 L641.61,341.71 L642.00,342.60 L642.41,343.50 L642.83,344.39 L643.26,345.29 L643.72,346.18 L644.19,347.07 L644.67,347.97 L645.18,348.86 L645.70,349.76 L646.24,350.65 L646.79,351.54 L647.37,352.44 L647.96,353.33 L648.57,354.23 L649.19,355.12 L649.83,356.01 L650.49,356.91 L651.16,357.80 L651.85,358.69 L652.56,359.59 L653.28,360.48 L654.01,361.38 L654.76,362.27 L655.52,363.16 L656.29,364.06 L657.07,364.95 L657.86,365.85 L658.67,366.74 L659.48,367.63 L660.30,368.53 L661.12,369.42 L661.96,370.32 L662.79,371.21 L663.63,372.10 L664.47,373.00 L665.31,373.89 L666.16,374.79 L667.00,375.68 L667.83,376.57 L668.66,377.47 L669.49,378.36 L670.31,379.26 L671.11,380.15 L671.91,381.04 L672.70,381.94 L673.47,382.83 L674.23,383.73 L674.97,384.62 L675.69,385.51 L676.40,386.41 L677.08,387.30 L677.74,388.20 L678.38,389.09 L678.99,389.98 L679.57,390.88 L680.13,391.77 L680.66,392.67 L681.16,393.56 L681.63,394.45 L682.06,395.35 L682.46,396.24 L682.83,397.14 L683.16,398.03 L683.46,398.92 L683.72,399.82 L683.95,400.71 L684.13,401.61 L684.28,402.50 L684.39,403.39 L684.46,404.29 L684.50,405.18 L684.49,406.08 L684.45,406.97 L684.36,407.86 L684.23,408.76 L684.07,409.65 L683.87,410.55 L683.62,411.44 L683.34,412.33 L683.03,413.23 L682.67,414.12 L682.28,415.02 L681.86,415.91 L681.40,416.80 L680.91,417.70 L680.39,418.59 L679.84,419.48 L679.25,420.38 L678.64,421.27 L678.01,422.17 L677.35,423.06 L676.66,423.95 L675.96,424.85 L675.23,425.74 L674.48,426.64 L673.72,427.53 L672.94,428.42 L672.14,429.32 L671.33,430.21 L670.52,431.11 L669.69,432.00 L668.85,432.89 L668.01,433.79 L667.16,434.68 L666.31,435.58 L665.45,436.47 L664.60,437.36 L663.74,438.26 L662.89,439.15 L662.04,440.05 L661.19,440.94 L660.35,441.83 L659.52,442.73 L658.70,443.62 L657.88,444.52 L657.07,445.41 L656.28,446.30 L655.49,447.20 L654.72,448.09 L653.97,448.99 L653.22,449.88 L652.49,450.77 L651.78,451.67 L651.08,452.56 L650.40,453.46 L649.73,454.35 L649.08,455.24 L648.45,456.14 L647.84,457.03 L647.24,457.93 L646.66,458.82 L646.10,459.71 L645.56,460.61 L645.03,461.50 L644.53,462.40 L644.04,463.29 L643.56,464.18 L643.11,465.08 L642.67,465.97 L642.25,466.87 L641.85,467.76 L641.46,468.65 L641.09,469.55 L640.73,470.44 L640.40,471.34 L640.07,472.23 L639.76,473.12 L639.47,474.02 L639.19,474.91 L638.92,475.81 L638.66,476.70 L638.42,477.59 L638.19,478.49 L637.98,479.38 L637.77,480.27 L637.58,481.17 L637.39,482.06 L637.22,482.96 L637.05,483.85 L636.90,484.74 L636.75,485.64 L636.62,486.53 L636.49,487.43 L636.37,488.32 L636.25,489.21 L636.15,490.11 L636.05,491.00 L635.96,491.90 L635.87,492.79 L635.79,493.68 L635.71,494.58 L635.64,495.47 L635.58,496.37 L635.51,497.26 L635.46,498.15 L635.40,499.05 L635.36,499.94 L635.31,500.84 L635.27,501.73 L635.23,502.62 L635.19,503.52 L635.16,504.41 L635.13,505.31 L635.10,506.20" fill="none" stroke="#4a6fbf" stroke-width="1.1"/>
<rect x="402.5" y="328.3" width="232.30" height="177.90" fill="#fff" stroke="none"/>
<circle cx="424.20" cy="381.40" r="5.7" fill="rgb(76,114,186)" fill-opacity="0.5"/>
<circle cx="459.10" cy="384.60" r="5.7" fill="rgb(76,114,186)" fill-opacity="0.5"/>
<circle cx="473.10" cy="377.40" r="5.7" fill="rgb(76,114,186)" fill-opacity="0.5"/>
<circle cx="484.00" cy="383.50" r="5.7" fill="rgb(76,114,186)" fill-opacity="0.5"/>
<circle cx="492.20" cy="379.70" r="5.7" fill="rgb(76,114,186)" fill-opacity="0.5"/>
<circle cx="504.10" cy="375.70" r="5.7" fill="rgb(76,114,186)" fill-opacity="0.5"/>
<circle cx="498.40" cy="359.90" r="5.7" fill="rgb(76,114,186)" fill-opacity="0.5"/>
<circle cx="501.00" cy="392.50" r="5.7" fill="rgb(76,114,186)" fill-opacity="0.5"/>
<circle cx="507.10" cy="392.50" r="5.7" fill="rgb(76,114,186)" fill-opacity="0.5"/>
<circle cx="501.60" cy="403.70" r="5.7" fill="rgb(76,114,186)" fill-opacity="0.5"/>
<circle cx="518.00" cy="399.00" r="5.7" fill="rgb(76,114,186)" fill-opacity="0.5"/>
<circle cx="518.80" cy="398.60" r="5.7" fill="rgb(76,114,186)" fill-opacity="0.5"/>
<circle cx="453.20" cy="407.70" r="5.7" fill="rgb(76,114,186)" fill-opacity="0.5"/>
<circle cx="491.00" cy="416.50" r="5.7" fill="rgb(76,114,186)" fill-opacity="0.5"/>
<circle cx="510.30" cy="419.00" r="5.7" fill="rgb(76,114,186)" fill-opacity="0.5"/>
<circle cx="515.50" cy="413.00" r="5.7" fill="rgb(76,114,186)" fill-opacity="0.5"/>
<circle cx="540.40" cy="346.10" r="5.7" fill="rgb(76,114,186)" fill-opacity="0.5"/>
<circle cx="529.20" cy="359.10" r="5.7" fill="rgb(76,114,186)" fill-opacity="0.5"/>
<circle cx="529.60" cy="358.70" r="5.7" fill="rgb(76,114,186)" fill-opacity="0.5"/>
<circle cx="541.00" cy="362.50" r="5.7" fill="rgb(76,114,186)" fill-opacity="0.5"/>
<circle cx="554.20" cy="362.90" r="5.7" fill="rgb(76,114,186)" fill-opacity="0.5"/>
<circle cx="547.30" cy="367.40" r="5.7" fill="rgb(76,114,186)" fill-opacity="0.5"/>
<circle cx="563.10" cy="369.00" r="5.7" fill="rgb(76,114,186)" fill-opacity="0.5"/>
<circle cx="527.20" cy="372.00" r="5.7" fill="rgb(76,114,186)" fill-opacity="0.5"/>
<circle cx="609.40" cy="375.70" r="5.7" fill="rgb(76,114,186)" fill-opacity="0.5"/>
<circle cx="570.40" cy="381.60" r="5.7" fill="rgb(76,114,186)" fill-opacity="0.5"/>
<circle cx="588.30" cy="393.00" r="5.7" fill="rgb(76,114,186)" fill-opacity="0.5"/>
<circle cx="538.40" cy="389.10" r="5.7" fill="rgb(76,114,186)" fill-opacity="0.5"/>
<circle cx="541.80" cy="390.70" r="5.7" fill="rgb(76,114,186)" fill-opacity="0.5"/>
<circle cx="542.20" cy="391.20" r="5.7" fill="rgb(76,114,186)" fill-opacity="0.5"/>
<circle cx="525.60" cy="402.50" r="5.7" fill="rgb(76,114,186)" fill-opacity="0.5"/>
<circle cx="537.00" cy="398.40" r="5.7" fill="rgb(76,114,186)" fill-opacity="0.5"/>
<circle cx="538.40" cy="403.90" r="5.7" fill="rgb(76,114,186)" fill-opacity="0.5"/>
<circle cx="541.80" cy="405.30" r="5.7" fill="rgb(76,114,186)" fill-opacity="0.5"/>
<circle cx="554.40" cy="406.20" r="5.7" fill="rgb(76,114,186)" fill-opacity="0.5"/>
<circle cx="542.40" cy="412.40" r="5.7" fill="rgb(76,114,186)" fill-opacity="0.5"/>
<circle cx="522.20" cy="417.20" r="5.7" fill="rgb(76,114,186)" fill-opacity="0.5"/>
<circle cx="537.00" cy="420.70" r="5.7" fill="rgb(76,114,186)" fill-opacity="0.5"/>
<circle cx="546.30" cy="420.10" r="5.7" fill="rgb(76,114,186)" fill-opacity="0.5"/>
<circle cx="511.30" cy="429.00" r="5.7" fill="rgb(76,114,186)" fill-opacity="0.5"/>
<circle cx="506.20" cy="431.00" r="5.7" fill="rgb(76,114,186)" fill-opacity="0.5"/>
<circle cx="526.30" cy="427.90" r="5.7" fill="rgb(76,114,186)" fill-opacity="0.5"/>
<circle cx="531.90" cy="433.10" r="5.7" fill="rgb(76,114,186)" fill-opacity="0.5"/>
<circle cx="536.60" cy="437.20" r="5.7" fill="rgb(76,114,186)" fill-opacity="0.5"/>
<circle cx="557.20" cy="429.00" r="5.7" fill="rgb(76,114,186)" fill-opacity="0.5"/>
<circle cx="577.20" cy="423.80" r="5.7" fill="rgb(76,114,186)" fill-opacity="0.5"/>
<circle cx="522.20" cy="448.90" r="5.7" fill="rgb(76,114,186)" fill-opacity="0.5"/>
<circle cx="529.20" cy="457.20" r="5.7" fill="rgb(76,114,186)" fill-opacity="0.5"/>
<circle cx="544.20" cy="470.70" r="5.7" fill="rgb(76,114,186)" fill-opacity="0.5"/>
<circle cx="525.10" cy="479.80" r="5.7" fill="rgb(76,114,186)" fill-opacity="0.5"/>
<circle cx="555.20" cy="484.50" r="5.7" fill="rgb(76,114,186)" fill-opacity="0.5"/>
<circle cx="498.40" cy="463.00" r="5.7" fill="rgb(76,114,186)" fill-opacity="0.5"/>
<circle cx="486.20" cy="432.50" r="5.7" fill="rgb(76,114,186)" fill-opacity="0.5"/>
<circle cx="488.20" cy="437.40" r="5.7" fill="rgb(76,114,186)" fill-opacity="0.5"/>
<circle cx="462.00" cy="437.80" r="5.7" fill="rgb(76,114,186)" fill-opacity="0.5"/>
<circle cx="460.20" cy="456.50" r="5.7" fill="rgb(76,114,186)" fill-opacity="0.5"/>
<line x1="423.70" y1="414.40" x2="609.80" y2="399.90" stroke="#4a6fbf" stroke-width="1.2"/>
<rect x="402.5" y="328.3" width="232.30" height="177.90" fill="none" stroke="#333" stroke-width="1.1"/>
<line x1="399.90" y1="360.80" x2="402.50" y2="360.80" stroke="#333" stroke-width="0.9"/>
<text x="395.70" y="364.20" font-size="9.6" text-anchor="end" fill="#1a1a1a">0.6</text>
<line x1="399.90" y1="409.15" x2="402.50" y2="409.15" stroke="#333" stroke-width="0.9"/>
<text x="395.70" y="412.55" font-size="9.6" text-anchor="end" fill="#1a1a1a">0.3</text>
<line x1="399.90" y1="457.50" x2="402.50" y2="457.50" stroke="#333" stroke-width="0.9"/>
<text x="395.70" y="460.90" font-size="9.6" text-anchor="end" fill="#1a1a1a">0.0</text>
<line x1="399.90" y1="506.20" x2="402.50" y2="506.20" stroke="#333" stroke-width="0.9"/>
<text x="395.70" y="509.60" font-size="9.6" text-anchor="end" fill="#1a1a1a">−0.3</text>
<line x1="434.40" y1="506.20" x2="434.40" y2="508.50" stroke="#333" stroke-width="0.9"/>
<text x="434.40" y="519.00" font-size="9.6" text-anchor="middle" fill="#1a1a1a">0.7</text>
<line x1="514.60" y1="506.20" x2="514.60" y2="508.50" stroke="#333" stroke-width="0.9"/>
<text x="514.60" y="519.00" font-size="9.6" text-anchor="middle" fill="#1a1a1a">0.8</text>
<line x1="594.80" y1="506.20" x2="594.80" y2="508.50" stroke="#333" stroke-width="0.9"/>
<text x="594.80" y="519.00" font-size="9.6" text-anchor="middle" fill="#1a1a1a">0.9</text>
<text x="518.20" y="535.50" font-size="10.4" text-anchor="middle" fill="#1a1a1a" textLength="92.3" lengthAdjust="spacingAndGlyphs">Behavioral accuracy</text>
<text x="374.00" y="416.95" font-size="10.4" text-anchor="middle" fill="#1a1a1a" textLength="134.5" lengthAdjust="spacingAndGlyphs" transform="rotate(-90 374.00 416.95)">DNS during neutral-cue stage</text>
<text x="355.90" y="281.30" font-size="14" text-anchor="start" fill="#111">D</text>
<text x="581.30" y="483.20" font-size="10.1" fill="#1a1a1a"><tspan font-style="italic">r</tspan> = 0.083</text>
<text x="581.30" y="496.20" font-size="10.1" fill="#1a1a1a"><tspan font-style="italic">p</tspan> &gt; 0.05</text>
</g>
</svg></body></html>
